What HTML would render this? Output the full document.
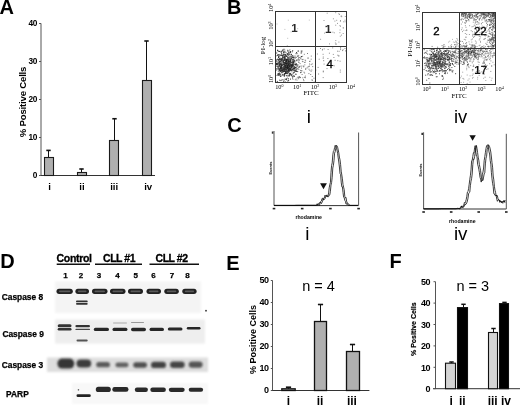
<!DOCTYPE html>
<html><head><meta charset="utf-8"><style>
html,body{margin:0;padding:0;background:#fff;}
svg{display:block;}
</style></head><body>
<svg width="520" height="408" viewBox="0 0 520 408">
<defs><filter id="bl" x="-10%" y="-50%" width="120%" height="200%"><feGaussianBlur stdDeviation="0.6"/></filter><filter id="bl2" x="-10%" y="-50%" width="120%" height="200%"><feGaussianBlur stdDeviation="1.1"/></filter></defs>
<rect width="520" height="408" fill="#fff"/>
<text x="-0.6" y="14.0" font-size="20" font-weight="bold" text-anchor="start" font-family='"Liberation Sans", Arial, sans-serif' >A</text>
<text x="227.0" y="13.9" font-size="20" font-weight="bold" text-anchor="start" font-family='"Liberation Sans", Arial, sans-serif' >B</text>
<text x="227.2" y="132.2" font-size="20" font-weight="bold" text-anchor="start" font-family='"Liberation Sans", Arial, sans-serif' >C</text>
<text x="0.2" y="267.8" font-size="20" font-weight="bold" text-anchor="start" font-family='"Liberation Sans", Arial, sans-serif' >D</text>
<text x="226.3" y="269.9" font-size="20" font-weight="bold" text-anchor="start" font-family='"Liberation Sans", Arial, sans-serif' >E</text>
<text x="389.4" y="267.8" font-size="20" font-weight="bold" text-anchor="start" font-family='"Liberation Sans", Arial, sans-serif' >F</text>
<line x1="41" y1="23.4" x2="41" y2="176.0" stroke="#555" stroke-width="1"/>
<line x1="39.5" y1="175.5" x2="155" y2="175.5" stroke="#333" stroke-width="1"/>
<line x1="39" y1="175.5" x2="41" y2="175.5" stroke="#555" stroke-width="1"/>
<text x="36.9" y="177.6" font-size="8.3" font-weight="bold" text-anchor="end" font-family='"Liberation Sans", Arial, sans-serif' letter-spacing="-0.4">0</text>
<line x1="39" y1="137.5" x2="41" y2="137.5" stroke="#555" stroke-width="1"/>
<text x="36.9" y="139.6" font-size="8.3" font-weight="bold" text-anchor="end" font-family='"Liberation Sans", Arial, sans-serif' letter-spacing="-0.4">10</text>
<line x1="39" y1="99.5" x2="41" y2="99.5" stroke="#555" stroke-width="1"/>
<text x="36.9" y="101.6" font-size="8.3" font-weight="bold" text-anchor="end" font-family='"Liberation Sans", Arial, sans-serif' letter-spacing="-0.4">20</text>
<line x1="39" y1="61.5" x2="41" y2="61.5" stroke="#555" stroke-width="1"/>
<text x="36.9" y="63.6" font-size="8.3" font-weight="bold" text-anchor="end" font-family='"Liberation Sans", Arial, sans-serif' letter-spacing="-0.4">30</text>
<line x1="39" y1="23.5" x2="41" y2="23.5" stroke="#555" stroke-width="1"/>
<text x="36.9" y="25.6" font-size="8.3" font-weight="bold" text-anchor="end" font-family='"Liberation Sans", Arial, sans-serif' letter-spacing="-0.4">40</text>
<line x1="48.5" y1="150.4" x2="48.5" y2="157.5" stroke="#111" stroke-width="1"/>
<line x1="46.3" y1="150.4" x2="50.7" y2="150.4" stroke="#111" stroke-width="1.6"/>
<rect x="44.5" y="157.5" width="9.0" height="18.0" fill="#afafaf" stroke="#1a1a1a" stroke-width="1.1" />
<line x1="81.5" y1="169" x2="81.5" y2="172.5" stroke="#111" stroke-width="1"/>
<line x1="79.3" y1="169" x2="83.7" y2="169" stroke="#111" stroke-width="1.6"/>
<rect x="77.5" y="172.5" width="9.0" height="3.0" fill="#afafaf" stroke="#1a1a1a" stroke-width="1.1" />
<line x1="114.5" y1="118.75" x2="114.5" y2="140.5" stroke="#111" stroke-width="1"/>
<line x1="112.3" y1="118.75" x2="116.7" y2="118.75" stroke="#111" stroke-width="1.6"/>
<rect x="109.5" y="140.5" width="9.0" height="35.0" fill="#afafaf" stroke="#1a1a1a" stroke-width="1.1" />
<line x1="146.5" y1="41" x2="146.5" y2="80.5" stroke="#111" stroke-width="1"/>
<line x1="144.3" y1="41" x2="148.7" y2="41" stroke="#111" stroke-width="1.6"/>
<rect x="142.5" y="80.5" width="9.0" height="95.0" fill="#afafaf" stroke="#1a1a1a" stroke-width="1.1" />
<text x="49.6" y="189.6" font-size="9.6" font-weight="bold" text-anchor="middle" font-family='"Liberation Sans", Arial, sans-serif' >i</text>
<text x="82" y="189.6" font-size="9.6" font-weight="bold" text-anchor="middle" font-family='"Liberation Sans", Arial, sans-serif' >ii</text>
<text x="114.2" y="189.6" font-size="9.6" font-weight="bold" text-anchor="middle" font-family='"Liberation Sans", Arial, sans-serif' >iii</text>
<text x="148.2" y="189.6" font-size="9.6" font-weight="bold" text-anchor="middle" font-family='"Liberation Sans", Arial, sans-serif' >iv</text>
<text x="0" y="0" font-size="9.6" font-weight="bold" text-anchor="middle" font-family='"Liberation Sans", Arial, sans-serif' letter-spacing="-0.2" transform="translate(26.4,102) rotate(-90)">% Positive Cells</text>
<path d="M283.0 68.0h1M283.1 62.4h1M278.9 63.0h1M291.2 67.4h1M290.7 66.2h1M286.9 65.8h1M287.5 67.9h1M279.2 61.3h1M286.3 64.2h1M287.6 60.1h1M286.4 67.2h1M280.5 76.2h1M287.8 72.6h1M280.8 59.5h1M282.4 63.8h1M288.3 66.2h1M281.8 58.0h1M281.4 72.8h1M279.7 66.2h1M287.1 54.4h1M284.8 73.4h1M283.9 58.9h1M287.5 64.1h1M275.7 70.1h1M288.5 70.9h1M293.1 67.0h1M285.2 55.7h1M288.2 60.3h1M281.8 55.9h1M278.7 60.9h1M292.2 50.7h1M275.8 66.1h1M293.2 68.4h1M286.6 59.5h1M277.8 71.1h1M291.1 65.6h1M286.0 67.5h1M294.1 68.7h1M287.6 68.2h1M290.2 68.1h1M289.6 52.2h1M283.4 71.4h1M276.6 75.4h1M287.8 63.5h1M286.4 68.9h1M285.2 72.3h1M280.5 61.7h1M290.8 64.7h1M279.2 70.9h1M293.3 61.5h1M276.2 63.6h1M283.6 62.5h1M292.9 57.5h1M292.1 55.9h1M279.8 68.8h1M291.3 70.3h1M286.6 65.5h1M285.4 68.4h1M283.4 66.4h1M287.9 64.5h1M289.1 68.3h1M296.6 66.7h1M281.9 62.0h1M284.4 70.8h1M282.5 67.1h1M277.8 66.2h1M286.9 66.1h1M281.9 69.0h1M286.2 61.0h1M299.1 66.9h1M281.2 63.8h1M283.1 64.1h1M290.6 56.6h1M284.1 71.0h1M289.6 74.6h1M282.5 68.7h1M291.0 54.7h1M288.6 54.4h1M285.6 72.6h1M283.6 65.8h1M289.3 65.5h1M284.0 74.9h1M290.8 62.5h1M301.0 56.7h1M290.0 62.7h1M285.3 69.3h1M285.8 68.8h1M288.2 58.0h1M278.3 54.5h1M292.1 69.6h1M293.3 58.1h1M284.5 56.7h1M289.1 75.3h1M279.2 75.1h1M290.4 63.3h1M283.9 60.4h1M286.9 67.3h1M293.5 57.6h1M291.3 74.6h1M293.2 63.3h1M280.0 71.4h1M285.2 65.3h1M293.0 62.7h1M286.4 60.3h1M284.4 70.2h1M285.0 73.5h1M284.1 71.6h1M293.4 75.4h1M280.5 70.5h1M277.1 64.4h1M283.3 64.3h1M281.0 66.1h1M295.2 64.8h1M287.7 71.3h1M283.3 55.9h1M281.2 71.8h1M290.5 69.9h1M284.5 70.0h1M285.5 56.5h1M290.0 60.7h1M279.1 59.3h1M277.4 67.0h1M280.7 51.3h1M288.8 62.6h1M286.2 61.4h1M289.2 69.6h1M288.5 66.7h1M292.5 69.0h1M287.2 50.3h1M289.9 73.4h1M282.7 61.3h1M296.1 52.5h1M287.3 81.0h1M278.9 69.2h1M295.8 63.7h1M287.9 70.6h1M279.1 63.9h1M286.3 70.1h1M284.3 63.2h1M278.4 62.1h1M289.9 65.2h1M279.4 58.8h1M300.5 72.3h1M288.2 67.8h1M294.6 67.4h1M284.1 68.1h1M286.4 59.7h1M292.5 76.8h1M276.1 60.0h1M286.2 65.7h1M282.1 57.9h1M297.2 71.6h1M277.3 55.4h1M294.7 71.2h1M295.4 70.0h1M279.3 66.3h1M284.1 68.1h1M280.1 63.7h1M287.3 67.1h1M288.3 65.9h1M282.6 69.9h1M284.8 58.9h1M280.7 64.5h1M283.8 65.6h1M284.5 65.7h1M283.7 55.9h1M287.0 71.7h1M287.1 63.2h1M287.2 57.9h1M278.9 69.5h1M278.3 75.2h1M282.2 55.2h1M279.9 68.0h1M287.5 65.7h1M293.4 69.3h1M284.4 68.6h1M294.4 71.1h1M290.6 57.1h1M283.6 69.5h1M282.7 71.8h1M288.1 70.7h1M283.2 81.8h1M291.9 63.0h1M285.0 82.1h1M282.4 70.4h1M290.4 64.5h1M277.5 65.8h1M286.7 72.2h1M289.2 64.7h1M289.6 68.2h1M285.7 64.9h1M283.0 69.2h1M278.2 60.2h1M284.5 54.5h1M281.9 50.8h1M280.4 68.4h1M287.9 64.1h1M283.1 54.9h1M295.5 68.0h1M291.1 58.5h1M283.4 52.1h1M289.2 70.9h1M288.3 52.5h1M280.7 55.0h1M284.7 66.2h1M288.3 69.3h1M293.5 72.4h1M276.6 61.1h1M278.1 57.2h1M284.0 64.5h1M287.4 53.7h1M277.1 64.3h1M283.3 62.4h1M284.1 59.3h1M288.7 66.9h1M284.0 59.9h1M278.6 64.8h1M285.4 55.1h1M283.0 62.4h1M287.3 68.7h1M284.3 58.7h1M283.6 64.1h1M288.9 66.5h1M280.2 55.3h1M282.3 59.5h1M277.8 63.7h1M281.6 65.2h1M287.6 61.7h1M298.4 62.3h1M291.1 65.3h1M280.0 66.2h1M288.1 80.4h1M286.4 73.2h1M289.1 70.9h1M287.6 63.4h1M287.6 57.2h1M291.6 57.6h1M286.0 78.9h1M283.2 64.6h1M291.5 64.7h1M279.7 66.3h1M288.0 69.3h1M279.9 76.4h1M294.5 64.6h1M286.1 61.6h1M293.0 59.7h1M288.5 61.2h1M280.3 69.4h1M292.5 64.4h1M280.4 70.0h1M284.2 66.6h1M293.6 72.2h1M281.4 80.0h1M284.5 69.8h1M280.6 64.2h1M292.7 56.2h1M291.6 61.4h1M284.1 62.4h1M283.8 57.1h1M284.6 54.7h1M284.1 66.6h1M287.3 62.9h1M279.1 65.6h1M281.6 75.1h1M289.1 63.7h1M281.7 59.7h1M278.9 62.1h1M286.3 68.0h1M287.9 78.8h1M280.3 64.6h1M301.3 51.8h1M281.4 65.7h1M285.4 67.3h1M283.1 67.0h1M284.8 69.7h1M284.5 57.5h1M278.2 68.8h1M280.6 68.8h1M289.0 66.6h1M287.5 63.8h1M276.0 64.3h1M287.2 60.9h1M283.9 69.6h1M279.2 68.9h1M295.7 60.7h1M285.4 63.5h1M293.7 66.7h1M289.9 59.8h1M284.4 64.4h1M289.9 52.6h1M289.0 63.6h1M287.2 67.0h1M275.5 63.1h1M293.5 60.6h1M278.4 55.3h1M277.2 66.8h1M294.7 67.4h1M286.0 79.7h1M281.4 59.9h1M287.7 68.2h1M278.4 56.5h1M286.2 66.2h1M276.7 63.1h1M281.2 67.6h1M283.8 63.9h1M282.4 71.7h1M292.8 62.0h1M289.6 59.3h1M284.9 69.6h1M293.6 61.9h1M284.1 65.8h1M275.5 64.6h1M280.4 67.0h1M277.7 51.1h1M284.7 66.3h1M281.2 70.5h1M282.9 60.4h1M287.4 53.8h1M280.4 64.4h1M289.6 63.4h1M286.4 60.0h1M286.3 75.8h1M280.4 80.6h1M280.6 64.6h1M285.5 71.5h1M277.1 50.2h1M288.1 69.9h1M288.2 82.4h1M285.7 66.2h1M290.1 67.0h1M294.5 56.1h1M289.4 62.0h1M290.0 79.1h1M284.5 62.8h1M281.5 58.8h1M280.7 68.8h1M284.7 65.0h1M283.5 70.7h1M287.5 63.5h1M288.5 63.5h1M277.6 74.4h1M287.3 58.0h1M291.0 66.8h1M286.5 70.6h1M285.7 63.5h1M284.7 62.6h1M286.6 65.0h1M288.6 62.0h1M282.0 69.1h1M292.5 62.0h1M283.8 75.3h1M282.5 69.5h1M294.6 64.8h1M291.9 59.7h1M285.7 64.0h1M285.2 72.2h1M298.8 60.0h1M281.0 67.9h1M278.2 67.9h1M287.9 62.6h1M287.7 54.0h1M289.1 54.0h1M280.3 60.7h1M282.1 70.3h1M285.0 61.8h1M287.8 75.3h1M284.5 67.0h1M291.9 66.3h1M276.8 81.4h1M297.8 51.0h1M284.3 67.3h1M290.3 69.0h1M282.9 57.3h1M285.1 71.5h1M278.0 57.5h1M284.4 51.3h1M282.9 61.5h1M287.2 59.7h1M279.2 61.8h1M284.2 60.0h1M284.6 69.6h1M291.6 76.1h1M279.8 61.6h1M280.2 64.3h1M287.6 55.3h1M287.3 64.3h1M291.7 51.8h1M289.3 65.9h1M287.3 67.5h1M292.3 63.0h1M289.7 61.7h1M288.9 59.0h1M283.8 76.3h1M287.2 63.4h1M277.6 59.1h1M285.7 70.9h1M287.1 68.1h1M284.2 73.7h1M282.2 60.8h1M289.8 64.9h1M282.8 60.6h1M283.0 68.7h1M286.6 56.3h1M287.1 65.7h1M278.5 69.8h1M282.8 62.2h1M289.3 73.5h1M280.4 67.5h1M279.2 80.2h1M281.5 72.6h1M280.6 70.0h1M281.9 67.9h1M283.9 60.0h1M297.4 65.0h1M281.0 65.5h1M292.1 65.3h1M276.2 53.0h1M291.6 69.5h1M279.6 70.3h1M287.5 68.9h1M289.9 69.5h1M285.5 67.8h1M299.8 58.0h1M282.5 64.7h1M289.8 61.5h1M291.4 59.1h1M286.1 60.9h1M285.4 59.8h1M286.3 60.7h1M285.7 71.2h1M278.6 63.7h1M287.7 68.1h1M282.5 50.2h1M292.0 66.7h1M284.6 62.6h1M286.1 61.6h1M278.4 59.5h1M280.9 60.3h1M277.5 68.8h1M276.6 69.0h1M278.4 66.9h1M292.7 65.9h1M280.1 64.8h1M285.4 52.7h1M280.9 65.6h1M281.7 65.0h1M288.9 69.7h1M289.9 68.5h1M282.8 64.4h1M282.9 62.4h1M283.4 52.8h1M282.5 64.3h1M278.7 64.3h1M287.6 63.4h1M283.3 52.1h1M287.6 62.4h1M289.6 67.0h1M284.6 60.5h1M288.3 61.2h1M285.8 61.0h1M285.7 69.6h1M279.2 64.3h1M288.2 65.5h1M292.0 78.0h1M279.0 51.4h1M289.6 74.9h1M290.0 70.0h1M280.8 59.6h1M289.8 58.3h1M299.5 77.6h1M280.4 59.5h1M285.9 59.4h1M292.4 64.0h1M278.0 73.4h1M281.0 66.0h1M284.4 62.4h1M286.4 59.8h1M276.9 59.3h1M284.4 64.9h1M287.8 65.3h1M279.7 59.7h1M287.4 68.1h1M283.8 63.3h1M290.1 64.6h1M288.9 68.5h1M285.8 73.4h1M281.1 62.1h1M279.7 59.1h1M293.8 76.5h1M284.6 68.4h1M291.6 70.0h1M291.7 55.9h1M280.7 67.6h1M293.1 65.2h1M279.3 62.1h1M280.5 58.7h1M293.5 60.2h1M284.6 79.2h1M291.6 66.8h1M280.8 67.3h1M294.2 68.7h1M292.1 65.2h1M287.6 63.1h1M287.1 73.3h1M275.9 64.1h1M285.9 60.6h1M282.7 69.9h1M296.5 68.8h1M286.5 54.0h1M296.1 65.0h1M284.3 56.9h1M284.2 57.0h1M284.9 67.7h1M284.7 66.4h1M279.4 74.2h1M280.6 52.1h1M283.4 59.3h1M278.4 62.1h1M286.2 56.5h1M283.7 74.2h1M288.6 63.5h1M285.3 63.7h1M284.2 69.5h1M284.4 58.5h1M288.4 60.3h1M285.4 79.3h1M278.2 56.9h1M280.7 51.8h1M275.6 68.7h1M279.8 62.0h1M286.5 73.7h1M296.1 71.5h1M285.4 65.8h1M295.3 74.2h1M282.6 67.6h1M286.2 64.9h1M281.5 55.5h1M281.3 54.0h1M291.8 68.1h1M277.3 74.0h1M289.9 51.5h1M295.5 70.0h1M296.9 56.1h1M287.7 67.4h1M285.7 65.7h1M290.8 54.3h1M277.0 55.0h1M281.2 60.4h1M286.7 66.3h1M284.7 59.9h1M281.8 71.0h1M289.1 65.2h1M282.6 75.1h1M280.9 68.9h1M291.4 62.7h1M289.5 56.9h1M290.6 65.9h1M279.1 73.2h1M280.4 63.4h1M286.2 62.2h1M286.1 60.7h1M288.5 64.5h1M291.5 64.7h1M287.3 71.8h1M278.0 75.0h1M283.5 80.8h1M283.6 69.1h1M282.3 56.9h1M291.1 70.7h1M293.7 70.3h1M281.1 53.2h1M280.6 59.9h1M279.6 68.5h1M286.5 62.7h1M285.5 63.5h1M285.8 69.6h1M290.3 59.8h1M285.2 72.0h1M284.7 54.7h1M281.4 69.4h1M291.0 75.3h1M279.3 55.0h1M287.6 70.9h1M285.7 55.7h1M289.2 69.9h1M287.8 61.2h1M286.3 69.9h1" stroke="#000" stroke-width="1" opacity="0.8"/>
<path d="M287.4 51.3h1M296.3 69.8h1M293.1 73.1h1M287.1 65.3h1M289.9 70.6h1M309.0 64.0h1M313.5 78.2h1M300.9 70.7h1M310.7 64.6h1M291.9 57.5h1M297.7 76.8h1M298.3 69.4h1M291.0 67.4h1M278.7 74.4h1M288.9 57.2h1M285.5 59.4h1M301.6 74.5h1M279.4 73.4h1M301.9 61.4h1M278.1 60.0h1M286.7 68.7h1M289.4 49.8h1M295.3 53.7h1M302.1 56.3h1M286.1 59.2h1M287.6 76.4h1M301.5 70.8h1M296.2 53.6h1M287.8 61.6h1M283.2 70.1h1M285.6 60.3h1M282.6 49.5h1M299.0 76.6h1M294.7 58.2h1M305.2 68.4h1M302.3 77.8h1M304.3 62.5h1M303.5 72.2h1M277.6 62.8h1M278.8 65.1h1M298.8 57.5h1M296.8 77.8h1M279.8 74.5h1M313.7 82.1h1M290.9 68.2h1M291.5 74.0h1M303.4 66.7h1M279.4 71.9h1M288.3 71.0h1M295.6 79.0h1M304.4 62.4h1M296.5 80.1h1M287.6 69.5h1M304.9 76.1h1M298.2 55.4h1M280.4 68.0h1M284.4 75.1h1M300.7 52.6h1M284.8 67.3h1M288.1 64.8h1M297.7 59.5h1M297.7 60.9h1M287.6 70.3h1M287.3 68.3h1M309.0 66.2h1M291.5 71.9h1M289.3 74.7h1M280.2 70.9h1M287.9 59.6h1M310.7 59.2h1M310.6 71.3h1M307.5 58.2h1M305.0 77.7h1M291.8 65.0h1M317.6 67.4h1M288.8 61.0h1M297.5 68.6h1M294.8 79.8h1M289.7 69.8h1M307.6 58.0h1M303.4 80.7h1M279.5 57.2h1M282.6 51.2h1M297.5 51.2h1M298.0 77.6h1M276.8 63.5h1M285.6 63.9h1M293.5 70.4h1M289.5 66.1h1M287.5 66.9h1M281.3 66.5h1M312.2 66.6h1M280.4 68.1h1M283.3 52.8h1M285.6 71.9h1M296.8 65.2h1M283.7 57.4h1M306.5 68.0h1M283.5 49.1h1M281.5 65.4h1M295.1 64.7h1M290.2 55.0h1M282.5 79.5h1M285.4 72.8h1M276.1 63.8h1M295.6 74.3h1M281.8 70.8h1M296.9 60.1h1M297.8 58.8h1M285.0 65.8h1M283.0 54.3h1M288.7 72.1h1M289.0 76.1h1M281.4 55.5h1M308.5 69.2h1M302.5 59.4h1M301.0 68.1h1M299.5 66.2h1M305.1 60.8h1M283.4 54.2h1M304.6 60.1h1M282.6 58.5h1M288.5 55.8h1M290.1 61.0h1M287.5 58.3h1M293.4 62.3h1M294.1 68.0h1M287.6 59.6h1M300.7 53.4h1M285.9 63.6h1M289.6 73.9h1M288.6 73.7h1M278.3 51.5h1M305.2 69.5h1M297.9 67.0h1M297.8 56.3h1M302.5 61.7h1M302.9 66.7h1M304.3 64.9h1M289.0 67.9h1M288.7 61.6h1M294.0 67.2h1M308.2 66.4h1M311.8 80.4h1M310.2 74.5h1M294.3 67.1h1M291.6 60.2h1M292.3 60.9h1M309.4 70.3h1M288.5 50.7h1M292.5 62.7h1M282.1 56.9h1M292.7 64.8h1M307.4 67.1h1M294.7 63.0h1M286.9 78.0h1M303.0 79.7h1M289.5 66.2h1M284.2 73.7h1M279.1 70.5h1M304.0 77.3h1M283.6 74.7h1M285.9 59.9h1M279.8 75.2h1M309.5 61.2h1M285.4 63.3h1M318.1 74.0h1M287.6 51.6h1M286.3 75.5h1M311.7 63.9h1M286.1 61.9h1M282.1 74.5h1M275.9 55.8h1M295.9 59.9h1M300.8 66.1h1M281.3 71.0h1M301.4 50.7h1M311.3 70.0h1M300.6 51.1h1M285.8 63.2h1M303.8 54.3h1M284.2 49.8h1M290.6 68.8h1M276.1 61.3h1M298.1 78.7h1M299.6 63.6h1M281.2 58.5h1M286.4 67.2h1M292.5 79.3h1M295.9 57.4h1M308.4 73.6h1M294.0 60.2h1M302.1 59.6h1M279.8 67.6h1M295.4 70.9h1M299.6 77.3h1M284.6 73.8h1M283.1 71.6h1M294.8 67.9h1M302.7 65.9h1M304.1 73.0h1M294.4 61.5h1M285.5 61.8h1M291.0 65.8h1M322.8 71.1h1M300.7 59.1h1M285.9 63.4h1M294.9 57.7h1M309.1 61.5h1M292.9 68.2h1M294.9 70.8h1M295.8 67.3h1M296.1 64.4h1M284.8 61.3h1M311.5 79.8h1M292.4 76.3h1M277.1 50.5h1M288.2 59.0h1M287.4 67.5h1M323.2 60.7h1M293.5 68.2h1M292.7 73.4h1M310.8 56.1h1M294.6 63.9h1M296.6 53.7h1M298.3 67.5h1M289.3 60.0h1M278.9 58.7h1M300.0 70.4h1M292.8 70.1h1M287.0 66.6h1M293.4 70.4h1M292.3 64.9h1M291.7 60.8h1M315.3 70.1h1M307.0 53.5h1M300.0 72.7h1M311.8 76.5h1M300.7 56.6h1M284.3 68.2h1M298.0 57.8h1" stroke="#000" stroke-width="1" opacity="0.5"/>
<path d="M328.9 53.2h1M332.8 54.4h1M340.1 49.6h1M338.6 51.3h1M322.6 54.3h1M345.0 50.9h1M322.0 49.4h1M342.6 49.8h1M333.4 57.5h1M337.1 51.2h1M338.3 55.9h1M320.0 48.5h1M342.0 50.6h1M322.8 57.0h1M332.6 65.5h1M337.3 55.2h1M333.7 65.8h1M337.3 60.7h1M339.8 70.1h1M322.7 77.6h1M321.9 50.0h1M340.1 47.9h1M338.3 55.9h1M316.9 54.0h1M327.4 58.5h1M323.7 48.9h1M339.8 72.1h1M334.6 60.3h1M322.8 71.9h1M323.6 64.1h1M344.5 48.5h1M332.2 47.9h1M327.6 49.5h1M326.5 68.6h1M340.0 47.9h1M322.7 58.3h1M318.7 59.2h1M339.6 61.2h1" stroke="#000" stroke-width="1" opacity="0.45"/>
<path d="M335.2 25.2h1M325.1 26.3h1M339.5 25.5h1M335.7 44.0h1M344.5 20.2h1M337.0 23.4h1M320.1 39.3h1M334.9 43.0h1M338.3 13.8h1M328.2 29.6h1M323.5 20.5h1M339.9 26.4h1M339.6 30.0h1M339.0 14.4h1M335.2 12.7h1M341.2 16.7h1M329.0 43.9h1M342.7 33.5h1M338.4 42.1h1M326.7 13.2h1M341.0 35.1h1M339.9 21.3h1M324.1 33.1h1M340.0 20.5h1M335.4 44.3h1M344.6 21.8h1M341.1 16.1h1M332.4 32.2h1M334.4 21.1h1M342.7 27.9h1M340.5 16.2h1M344.8 16.5h1M343.2 21.8h1M336.2 20.3h1M335.3 40.6h1M339.4 32.7h1M332.9 18.8h1M339.8 36.2h1M333.8 32.8h1M342.9 27.9h1" stroke="#000" stroke-width="1" opacity="0.4"/>
<path d="M287.8 20.2h1M284.4 29.4h1M290.6 31.9h1M276.5 24.0h1M308.8 20.1h1M297.2 28.7h1M286.8 45.6h1M287.2 38.3h1" stroke="#000" stroke-width="1" opacity="0.25"/>
<rect x="275.5" y="11.5" width="71.0" height="71.0" fill="none" stroke="#333" stroke-width="1"/>
<line x1="315.5" y1="11.5" x2="315.5" y2="82.5" stroke="#333" stroke-width="1"/>
<line x1="275.5" y1="46.5" x2="346.5" y2="46.5" stroke="#333" stroke-width="1"/>
<text x="291.2" y="32.3" font-size="11.6" font-weight="bold" text-anchor="start" font-family='"Liberation Sans", Arial, sans-serif' fill="#2a2a2a">1</text>
<text x="325" y="32.6" font-size="11.6" font-weight="bold" text-anchor="start" font-family='"Liberation Sans", Arial, sans-serif' fill="#2a2a2a">1</text>
<text x="326.5" y="68.0" font-size="11.6" font-weight="normal" text-anchor="start" font-family='"Liberation Sans", Arial, sans-serif' stroke="#000" stroke-width="0.35">4</text>
<path d="M439.2 63.7h1M443.8 56.0h1M445.3 64.1h1M424.6 65.7h1M442.2 64.7h1M451.0 58.6h1M441.9 66.7h1M429.8 69.9h1M425.2 52.4h1M441.9 53.9h1M436.5 50.0h1M438.1 53.6h1M440.4 50.8h1M441.3 59.6h1M438.0 61.0h1M438.6 52.3h1M429.5 58.3h1M431.0 57.2h1M428.5 63.8h1M436.3 55.8h1M429.1 67.2h1M431.9 65.6h1M428.3 61.5h1M440.4 67.0h1M444.3 68.7h1M434.3 60.0h1M444.1 58.5h1M446.5 50.4h1M443.1 60.3h1M440.1 61.6h1M428.3 58.2h1M450.4 55.7h1M427.3 60.6h1M434.2 55.1h1M430.3 68.8h1M425.2 75.2h1M432.9 53.9h1M444.2 65.4h1M428.6 66.7h1M447.1 59.7h1M426.4 65.1h1M445.3 61.3h1M441.1 66.9h1M453.3 59.7h1M433.4 61.2h1M447.8 54.9h1M444.3 56.8h1M441.4 66.3h1M427.4 60.9h1M439.5 65.6h1M429.6 54.6h1M435.9 59.9h1M424.8 68.0h1M433.0 71.5h1M444.7 61.6h1M443.7 53.7h1M434.7 57.5h1M426.7 61.6h1M436.3 71.5h1M429.7 58.3h1M441.1 64.3h1M437.7 58.2h1M441.7 64.0h1M425.8 53.2h1M438.7 61.9h1M438.5 55.4h1M435.8 55.1h1M440.7 66.3h1M452.4 70.4h1M430.7 58.3h1M429.5 63.6h1M454.3 66.5h1M426.5 65.1h1M437.5 63.6h1M452.6 55.7h1M430.3 75.3h1M440.4 56.0h1M437.9 68.5h1M436.3 56.6h1M431.2 74.8h1M437.7 65.8h1M434.1 65.0h1M444.4 60.5h1M433.6 60.2h1M429.3 60.0h1M434.9 63.0h1M448.9 70.7h1M433.7 65.7h1M440.0 66.8h1M437.7 63.4h1M433.5 56.0h1M444.9 70.6h1M443.1 64.6h1M439.8 58.3h1M439.2 57.6h1M429.3 70.4h1M442.9 78.1h1M431.4 61.3h1M433.2 62.6h1M435.7 56.3h1M446.6 56.0h1M433.2 65.4h1M432.9 58.5h1M440.5 58.9h1M426.9 60.8h1M435.6 73.4h1M428.2 68.3h1M430.8 59.0h1M434.7 63.4h1M444.8 73.7h1M432.1 70.8h1M446.0 67.2h1M431.0 67.8h1M436.6 64.0h1M435.2 66.1h1M447.0 69.4h1M435.8 68.5h1M449.8 55.0h1M450.0 52.2h1M442.1 65.7h1M450.1 63.5h1M433.4 55.9h1M426.9 66.9h1M435.5 56.5h1M442.0 56.1h1M433.8 58.3h1M451.6 71.7h1M436.2 50.5h1M439.9 62.0h1M440.5 65.5h1M434.8 68.0h1M444.6 63.0h1M434.0 58.1h1M443.4 53.8h1M436.1 56.3h1M425.7 65.7h1M437.3 61.8h1M444.9 51.0h1M436.9 63.5h1M444.6 53.9h1M443.6 63.0h1M449.0 69.5h1M442.2 76.5h1M437.5 58.5h1M434.6 54.9h1M436.8 64.5h1M445.9 59.1h1M449.3 56.9h1M431.0 56.0h1M449.9 65.1h1M428.3 65.1h1M441.5 59.9h1M437.7 59.4h1M433.0 49.4h1M436.7 70.3h1M449.4 59.6h1M431.3 60.1h1M444.9 63.9h1M432.7 64.0h1M435.8 65.0h1M434.1 51.5h1M438.0 66.7h1M428.3 60.8h1M444.8 58.9h1M432.1 75.4h1M444.4 68.5h1M429.7 72.6h1M423.8 58.0h1M443.6 70.6h1M429.8 57.0h1M442.8 65.3h1M433.8 65.2h1M443.9 63.6h1M441.8 71.8h1M433.6 62.6h1M433.2 68.5h1M434.1 64.7h1M438.6 62.0h1M451.6 60.9h1M449.2 67.1h1M448.4 60.4h1M445.1 66.6h1M432.4 63.3h1M436.4 61.3h1M448.2 56.6h1M423.7 49.7h1M433.8 57.1h1M437.6 65.3h1M451.9 63.6h1M441.3 56.5h1M442.3 70.7h1M444.8 72.2h1M444.3 51.4h1M435.0 65.5h1M440.9 56.0h1M430.2 68.0h1M426.6 71.2h1M437.7 63.5h1M426.6 57.5h1M443.1 51.6h1M454.4 52.0h1M427.5 61.8h1M441.4 66.4h1M434.5 60.1h1M435.6 57.6h1M439.6 62.6h1M432.4 63.2h1M437.4 61.0h1M446.5 49.9h1M439.6 54.3h1M434.9 71.6h1M428.6 60.8h1M432.7 67.9h1M429.5 50.2h1M441.7 59.1h1M434.9 68.8h1M430.3 59.0h1M438.7 64.3h1M433.3 68.5h1M455.8 58.8h1M449.0 59.2h1M438.6 59.2h1M432.3 52.9h1M434.3 70.2h1M446.8 59.2h1M433.2 56.8h1M427.7 73.6h1M442.9 62.3h1M433.5 54.6h1M448.2 66.7h1M429.7 68.1h1M428.5 65.8h1M429.7 58.7h1M441.5 64.4h1M445.8 55.9h1M450.4 70.5h1M437.4 64.6h1M431.2 60.5h1M426.7 62.1h1M439.1 70.5h1M445.2 67.0h1M434.5 60.0h1M434.7 63.0h1M424.7 58.0h1M437.7 58.0h1M451.1 60.8h1M450.3 69.4h1M433.4 64.2h1M448.1 59.3h1M438.2 57.7h1M438.0 59.1h1M438.2 68.2h1M448.9 62.4h1M439.1 67.3h1M435.1 54.4h1M446.6 55.2h1M445.1 55.0h1M452.4 54.5h1M444.4 71.6h1M429.7 71.5h1M430.8 49.6h1M443.4 66.2h1M437.1 59.4h1M434.4 59.6h1M422.9 57.7h1M452.2 71.9h1M434.5 56.7h1M440.7 68.6h1M443.4 53.6h1M438.8 62.4h1M449.2 69.5h1M441.8 69.7h1M434.3 71.8h1M434.0 64.2h1M445.0 55.4h1M431.8 49.7h1M438.8 61.1h1M434.8 64.8h1M438.2 59.7h1M444.0 73.3h1M433.9 55.2h1M432.6 62.1h1M442.3 55.7h1M445.7 54.6h1M444.2 64.4h1M441.3 76.0h1M435.3 60.4h1M441.4 67.3h1M426.6 63.3h1M431.4 65.7h1M448.7 61.8h1M436.6 62.7h1M442.1 62.6h1M434.3 56.6h1M436.0 69.7h1M436.7 70.6h1M439.7 61.4h1M424.0 57.0h1M447.7 52.8h1M429.4 54.1h1M433.0 65.8h1M449.4 57.5h1M432.7 72.7h1M436.8 53.2h1M432.3 56.6h1M429.3 59.3h1M444.7 63.9h1M426.2 80.2h1M429.4 62.3h1M437.8 66.6h1M434.8 64.6h1M454.7 62.1h1M428.7 63.7h1M430.9 59.0h1M439.0 63.8h1M435.2 67.2h1M435.9 52.7h1M444.7 59.1h1M447.4 57.1h1M442.2 63.6h1M428.4 71.0h1M446.4 64.8h1M443.0 58.2h1M437.4 63.0h1M440.9 66.3h1M435.8 56.8h1M432.9 64.3h1M423.9 53.1h1M434.1 57.8h1M434.7 59.8h1M435.0 64.7h1M441.5 69.5h1M446.1 54.4h1M442.7 59.2h1M430.9 71.8h1M432.4 55.8h1M434.2 55.8h1M445.7 64.1h1M448.9 64.3h1M432.5 68.5h1M432.1 58.4h1M436.1 61.8h1M447.3 57.4h1M440.4 61.3h1M427.2 54.1h1M435.7 64.2h1M440.1 64.7h1M437.9 58.5h1M441.0 54.7h1M426.5 59.3h1M425.8 58.0h1M431.4 57.8h1M437.1 56.1h1M434.0 50.0h1M438.7 55.6h1M430.9 63.1h1M438.3 62.2h1M425.2 63.0h1M438.7 54.9h1M443.6 61.2h1M437.7 58.5h1M442.0 62.2h1M446.8 64.6h1M432.4 60.0h1M445.0 59.0h1M440.6 65.0h1M438.6 62.9h1M438.6 56.4h1M447.4 60.6h1M432.4 56.6h1M440.4 54.1h1M429.3 75.0h1M448.3 68.6h1M448.7 65.5h1M423.6 69.6h1M447.7 64.8h1M448.7 58.2h1M438.5 66.8h1M436.8 68.9h1M438.2 66.2h1M438.2 51.5h1M429.3 83.0h1M439.8 70.4h1M446.9 73.1h1M442.1 57.5h1M435.9 67.7h1M444.3 70.5h1M429.9 57.1h1M441.9 75.6h1M428.0 70.9h1M441.0 58.1h1M436.9 63.0h1M455.1 73.7h1M456.2 62.4h1M445.6 70.8h1M441.7 63.9h1M436.0 58.7h1M427.3 74.8h1M439.7 61.3h1M439.0 73.8h1M436.6 59.7h1M431.3 61.3h1M433.9 62.9h1M463.3 64.2h1M430.4 74.6h1M444.6 67.1h1M443.4 67.1h1M443.1 71.1h1M445.8 70.7h1M433.3 61.5h1M431.5 68.0h1M444.4 58.3h1M442.3 79.4h1M447.7 53.9h1M436.7 65.8h1M437.2 64.1h1M447.3 63.7h1M428.4 66.4h1M436.7 62.3h1M432.8 52.1h1M427.2 59.1h1M447.0 53.6h1M431.5 65.1h1M431.1 66.0h1M433.5 63.6h1M438.4 61.5h1M437.2 71.1h1M433.0 65.1h1M438.8 64.8h1M445.7 51.3h1M439.8 60.3h1M434.9 55.7h1M431.0 54.5h1M428.4 78.6h1M451.6 61.6h1M443.6 54.8h1M438.7 71.3h1M437.2 54.7h1M435.5 54.7h1M425.9 59.9h1M434.2 56.0h1M430.2 55.2h1M439.5 71.0h1M435.8 76.8h1M424.1 63.4h1M427.9 60.4h1M438.3 65.3h1M446.9 57.7h1M427.2 60.2h1M439.9 56.7h1M444.9 73.0h1M425.7 64.0h1M439.2 60.0h1M425.7 70.5h1M439.3 58.2h1M441.2 65.9h1M443.9 65.5h1M440.9 53.5h1M434.0 62.4h1M434.4 54.3h1M437.8 57.5h1M434.0 55.4h1M431.3 60.8h1M432.2 66.1h1M436.3 62.4h1M440.9 70.2h1M442.5 63.1h1M436.1 56.0h1M434.7 66.2h1M439.4 58.9h1M426.5 51.0h1M440.2 68.5h1M440.6 52.1h1M435.7 63.0h1M429.9 63.9h1M435.8 55.8h1M427.2 67.0h1M440.5 55.4h1M429.1 67.6h1M442.4 59.4h1M450.7 59.5h1M428.8 68.9h1M435.9 63.9h1M437.8 54.7h1M427.7 60.2h1M449.1 54.7h1M448.7 63.0h1M428.3 63.3h1M442.2 55.4h1M428.3 64.5h1M430.8 51.4h1M435.5 62.7h1M432.9 53.5h1M439.3 49.6h1M441.9 64.8h1M451.4 67.5h1M440.4 63.3h1M437.7 52.5h1M449.6 65.1h1M435.1 53.7h1M449.8 65.1h1M427.7 66.1h1M453.2 61.3h1M440.8 58.7h1M432.3 68.8h1M462.9 62.3h1M436.5 66.9h1M435.0 66.5h1M444.3 54.6h1M428.6 61.0h1M444.4 63.4h1M447.7 52.1h1M441.6 57.3h1M438.3 63.7h1M429.5 59.9h1M427.9 63.3h1M430.5 58.1h1M439.3 57.1h1M447.0 57.2h1M444.5 63.4h1M429.0 60.0h1M430.6 59.0h1M435.3 73.8h1M434.0 72.1h1M441.2 52.6h1M446.0 64.1h1M435.8 59.8h1M439.6 59.4h1M433.1 59.0h1M447.1 57.3h1M440.6 53.7h1M431.6 52.2h1M435.9 66.1h1M440.0 58.2h1M442.5 59.1h1M440.6 63.4h1M426.8 66.7h1M436.6 76.7h1M435.6 57.8h1M449.8 65.3h1M453.1 65.0h1M435.8 66.4h1M431.0 58.5h1M432.9 60.0h1M443.9 58.2h1M440.1 58.1h1" stroke="#000" stroke-width="1" opacity="0.7"/>
<path d="M452.8 54.8h1M443.5 58.9h1M457.3 60.2h1M465.2 57.1h1M453.4 48.7h1M452.7 51.8h1M457.7 51.8h1M487.5 46.3h1M467.5 51.7h1M452.4 58.5h1M455.0 48.1h1M459.4 53.1h1M433.1 55.0h1M443.8 50.4h1M460.1 55.4h1M451.9 64.5h1M459.5 51.0h1M457.5 53.4h1M431.6 46.4h1M440.2 64.0h1M453.0 52.7h1M449.0 58.7h1M455.3 62.2h1M463.4 61.9h1M453.8 55.8h1M450.4 53.2h1M436.6 51.2h1M444.9 50.9h1M467.9 55.3h1M468.0 58.1h1M464.8 58.8h1M448.6 57.9h1M451.6 51.4h1M467.7 64.4h1M444.6 62.4h1M463.8 49.9h1M457.9 55.8h1M459.0 52.3h1M441.4 54.2h1M464.1 57.8h1M462.0 59.3h1M444.5 53.8h1M458.6 58.8h1M456.7 56.5h1M456.4 64.1h1M431.9 53.9h1M481.2 55.1h1M435.6 54.6h1M439.8 50.7h1M457.4 62.3h1M459.9 57.2h1M465.8 55.0h1M445.9 53.5h1M458.6 52.7h1M447.9 52.3h1M439.1 49.1h1M454.0 52.3h1M455.4 60.8h1M458.2 53.8h1M442.6 48.8h1M459.0 49.8h1M459.5 48.8h1M456.4 53.6h1M465.5 52.1h1M451.1 55.2h1M455.6 62.1h1M452.3 51.4h1M451.6 56.3h1M457.5 57.3h1M440.4 65.9h1M474.5 53.8h1M442.2 54.7h1M455.1 46.9h1M459.9 60.6h1M465.9 46.8h1M469.6 58.4h1M451.2 56.4h1M471.1 52.4h1M454.8 51.3h1M470.0 49.3h1M464.8 46.2h1M445.1 51.1h1M463.8 46.2h1M461.4 50.9h1M468.1 52.5h1M460.1 53.2h1M474.0 52.3h1M454.7 63.5h1M455.8 57.3h1M447.2 55.0h1M431.0 54.5h1M448.2 46.8h1M440.0 59.5h1M459.5 46.7h1M474.2 50.7h1M451.1 55.2h1M443.0 46.2h1M447.1 59.7h1M465.1 46.4h1M467.7 54.2h1M460.3 54.2h1M459.4 49.2h1M445.4 50.6h1M451.1 57.0h1M442.1 61.7h1M448.3 51.2h1M462.4 56.1h1M451.4 48.9h1M444.4 46.3h1M467.1 59.2h1M474.8 56.4h1M458.5 57.6h1M465.1 52.8h1M458.7 64.4h1M437.1 47.2h1M444.8 57.6h1M467.6 52.4h1M462.1 53.8h1M458.2 51.4h1M454.7 54.0h1M467.0 64.7h1M435.8 56.6h1M454.9 58.7h1M466.2 57.8h1M463.6 49.4h1M436.9 62.0h1M467.8 49.4h1M468.7 57.2h1M429.0 58.3h1M444.5 59.6h1M447.8 50.4h1M438.6 53.0h1M465.8 50.8h1M435.3 64.3h1M474.6 57.3h1M449.3 48.2h1M437.6 56.7h1M468.8 48.9h1M455.0 52.7h1M452.3 56.4h1M477.2 50.9h1M464.0 59.2h1M452.0 53.3h1M440.8 59.2h1M449.4 50.8h1M455.7 49.9h1M443.9 52.6h1M470.8 53.0h1M460.6 46.9h1M434.3 62.8h1M450.8 46.6h1M453.9 56.9h1M436.7 49.7h1M457.8 49.6h1M463.5 58.6h1M459.7 51.9h1M454.5 50.9h1M453.6 55.5h1M451.8 58.7h1M482.5 51.4h1M458.6 58.0h1M461.8 52.9h1M449.9 58.8h1M461.6 56.4h1M446.5 57.0h1M463.4 53.1h1M461.9 64.5h1M435.1 56.9h1M442.6 47.4h1M452.5 56.6h1M455.6 48.4h1M439.7 51.3h1M455.1 50.0h1M439.0 62.5h1M446.1 53.2h1M449.2 51.2h1M455.4 52.6h1M461.6 48.3h1M439.2 63.4h1M454.2 57.7h1M467.6 56.7h1M455.4 46.5h1M438.0 58.7h1M462.2 56.8h1M443.7 48.3h1M456.7 49.1h1M471.9 51.0h1M449.0 58.2h1M458.5 49.6h1M463.8 63.3h1M441.9 52.8h1M443.5 44.6h1M461.7 57.4h1M465.4 56.1h1M433.5 53.9h1M447.9 48.3h1M443.2 57.7h1M451.8 63.5h1M460.0 44.7h1M464.6 60.1h1M455.3 48.1h1M473.9 47.6h1M454.1 44.7h1M441.6 45.7h1M466.7 59.7h1M450.7 47.4h1M454.4 55.8h1M438.7 48.4h1M453.9 57.4h1M455.8 56.2h1M458.3 49.5h1M453.7 52.2h1M460.2 50.2h1M470.5 54.2h1M460.7 57.1h1M466.1 56.0h1M436.2 50.9h1M475.0 56.3h1M461.0 56.3h1M448.1 50.7h1M448.0 59.7h1M458.9 62.7h1M460.4 63.2h1M459.9 48.2h1M473.7 55.7h1M467.8 55.1h1M451.5 54.8h1M442.9 48.1h1M445.4 51.4h1M440.4 53.5h1M458.3 63.9h1M474.9 53.8h1M464.5 52.9h1M459.2 53.8h1M449.2 54.4h1M439.0 56.2h1M451.9 48.7h1M451.1 56.7h1M447.7 56.3h1M461.2 61.7h1M443.2 53.5h1M460.5 61.4h1M457.8 57.7h1M439.1 51.1h1M473.0 52.6h1" stroke="#000" stroke-width="1" opacity="0.55"/>
<path d="M485.0 48.8h1M465.8 46.3h1M473.0 51.8h1M483.9 51.5h1M466.0 46.8h1M467.4 53.8h1M473.8 54.6h1M474.8 50.9h1M472.8 51.5h1M471.0 47.9h1M471.0 51.9h1M475.9 55.3h1M480.1 48.2h1M470.7 52.0h1M469.5 53.2h1M485.4 51.9h1M476.5 50.6h1M467.1 48.1h1M473.8 45.7h1M468.9 51.4h1M470.4 54.9h1M467.2 51.3h1M474.8 46.4h1M465.7 51.2h1M475.6 48.6h1M474.4 52.1h1M469.6 53.2h1M474.5 49.4h1M476.5 53.4h1M471.7 52.4h1M465.2 51.4h1M467.6 50.0h1M460.0 51.6h1M462.1 46.8h1M468.7 55.3h1M464.8 47.8h1M479.0 56.1h1M465.7 50.4h1M469.7 59.8h1M469.1 54.0h1M471.5 45.6h1M471.4 51.3h1M482.3 50.2h1M470.5 51.2h1M469.1 57.9h1M470.3 55.4h1M478.3 49.2h1M473.5 49.9h1M468.9 51.5h1M468.2 49.6h1M480.4 50.2h1M473.6 56.0h1M473.0 54.1h1M479.1 54.3h1M481.7 46.7h1M483.6 51.1h1M470.4 51.5h1M461.6 50.3h1M467.2 51.2h1M467.9 50.3h1M475.0 46.2h1M464.1 51.4h1M464.8 49.3h1M464.5 51.6h1M477.9 50.4h1M465.9 52.1h1M466.1 45.2h1M470.1 49.9h1M463.4 52.9h1M468.4 49.3h1M468.1 50.6h1M471.5 51.7h1M464.2 47.2h1M466.5 45.7h1M481.0 48.0h1M467.6 50.3h1M461.4 45.7h1M476.2 57.5h1M467.9 53.5h1M463.9 53.2h1M475.2 52.8h1M479.6 50.5h1M480.3 48.9h1M468.1 48.6h1M468.0 54.1h1M473.7 51.3h1M481.6 46.6h1M461.5 55.5h1M470.6 44.8h1M470.7 47.4h1M479.8 54.4h1M463.6 54.9h1M461.3 53.8h1M472.6 50.6h1M472.7 52.1h1M463.9 57.4h1" stroke="#000" stroke-width="1" opacity="0.5"/>
<path d="M461.5 12.9h1M467.0 18.1h1M484.5 14.8h1M486.4 12.6h1M469.7 15.5h1M461.9 13.5h1M469.8 15.1h1M493.8 15.8h1M483.3 16.7h1M481.3 13.7h1M463.2 15.7h1M463.3 16.3h1M465.8 12.8h1M464.8 23.1h1M484.4 12.9h1M470.3 12.8h1M464.4 15.0h1M471.3 17.6h1M476.1 15.8h1M485.8 20.2h1M472.6 17.7h1M489.3 19.9h1M468.7 13.9h1M490.1 14.4h1M470.4 18.1h1M461.3 15.7h1M466.4 20.6h1M483.4 17.5h1M467.1 15.6h1M465.9 21.8h1M474.0 19.0h1M483.2 15.1h1M463.2 13.7h1M461.5 13.8h1M493.7 14.2h1M473.4 12.9h1M487.8 14.7h1M469.6 15.7h1M464.8 16.1h1M469.4 13.4h1M473.9 15.6h1M487.0 12.9h1M468.4 15.1h1M474.1 16.3h1M477.0 16.8h1M490.6 18.1h1M489.4 14.3h1M469.0 16.7h1M464.9 13.3h1M476.6 12.9h1M465.0 14.2h1M477.3 13.8h1M476.0 15.1h1M465.0 15.9h1M477.0 14.1h1M492.8 14.0h1M468.6 13.0h1M486.3 20.0h1M493.7 15.6h1M490.2 19.9h1M478.8 18.6h1M469.2 16.3h1M468.2 19.5h1M463.8 13.4h1M476.7 21.5h1M485.9 16.4h1M471.8 14.5h1M468.0 14.5h1M465.1 15.7h1M461.4 12.8h1M483.2 13.4h1M477.0 12.6h1M486.2 15.3h1M478.0 13.2h1M481.6 13.8h1M488.3 14.3h1M493.1 13.0h1M473.5 20.4h1M491.7 13.7h1M481.3 15.1h1M491.7 14.9h1M462.2 13.9h1M475.9 14.2h1M486.5 14.5h1M480.8 16.3h1M484.1 14.0h1M461.4 15.3h1M477.2 13.4h1M478.4 16.9h1M482.1 14.1h1M467.9 19.9h1M493.7 13.3h1M471.9 15.6h1M483.7 14.5h1M461.8 14.2h1M489.2 14.2h1M461.0 14.9h1M476.4 14.4h1M480.1 13.0h1M469.2 14.6h1M465.1 14.7h1M465.7 13.1h1M478.8 19.8h1M462.9 16.6h1M469.0 15.1h1M476.4 17.1h1M474.9 17.0h1M490.2 16.3h1M493.5 13.6h1M474.9 22.0h1M462.8 14.1h1M461.6 13.5h1M470.8 15.0h1M490.6 22.6h1M475.3 20.1h1M488.4 13.9h1M483.2 14.5h1M469.3 12.7h1M483.4 18.7h1M491.6 16.2h1M493.7 13.1h1M491.5 14.0h1M480.4 15.1h1M469.7 18.1h1M469.0 15.8h1M484.0 16.1h1M463.5 12.8h1M477.0 18.1h1M483.9 12.7h1M477.2 13.0h1M484.0 14.0h1M467.1 18.1h1M493.6 13.1h1M475.6 15.3h1M493.6 13.6h1M493.7 16.5h1M491.6 13.2h1M473.2 19.0h1M483.6 12.7h1M468.6 14.6h1M468.3 12.6h1M465.6 13.6h1M474.8 13.9h1M480.8 13.3h1M493.0 15.8h1M485.0 14.2h1M475.9 14.6h1M461.6 16.6h1M484.0 14.5h1M493.7 15.8h1M487.1 15.4h1M482.6 17.4h1M485.0 15.1h1M487.1 13.1h1M471.2 12.8h1M481.4 19.9h1M489.9 16.3h1M467.7 16.3h1M461.5 18.8h1M470.3 13.9h1M463.4 15.0h1M484.7 12.6h1M461.1 12.9h1M485.2 15.6h1M492.8 12.7h1M494.0 14.7h1M478.8 15.4h1M471.9 16.5h1M469.8 14.8h1M462.9 14.6h1M464.1 13.7h1M482.2 13.5h1M487.9 15.5h1M485.8 15.0h1M467.4 16.4h1M492.6 13.7h1M466.2 13.0h1M484.5 17.3h1M468.8 16.7h1M488.1 13.1h1M480.9 14.2h1M467.5 14.4h1M487.9 19.5h1M468.9 17.4h1M480.2 15.8h1M465.7 14.4h1M464.7 17.4h1M482.6 12.7h1M475.4 15.6h1M479.1 12.7h1M485.6 13.5h1M468.5 13.9h1M484.5 18.0h1M481.9 14.7h1M471.6 14.1h1" stroke="#000" stroke-width="1" opacity="0.6"/>
<path d="M493.4 18.1h1M492.3 20.5h1M494.0 37.9h1M487.6 46.5h1M494.1 23.7h1M491.7 38.1h1M489.8 15.7h1M493.1 14.2h1M492.7 45.6h1M492.4 16.7h1M491.2 37.9h1M493.1 26.2h1M492.0 36.2h1M493.1 37.8h1M490.9 39.8h1M492.0 45.4h1M491.9 45.7h1M493.6 28.7h1M493.7 35.1h1M493.9 44.8h1M491.9 34.5h1M491.8 23.1h1M488.9 39.9h1M492.2 28.0h1M491.6 15.8h1M492.9 46.7h1M491.9 39.8h1M494.0 17.3h1M493.8 18.3h1M494.0 31.4h1M493.8 18.7h1M492.9 39.7h1M491.8 16.9h1M493.4 21.1h1M493.0 21.7h1M488.3 29.3h1M489.6 46.5h1M492.4 29.0h1M493.0 37.9h1M492.9 46.5h1M489.3 24.5h1M490.4 21.3h1M490.5 17.8h1M492.9 18.6h1M492.2 38.9h1M493.6 27.4h1M492.8 41.7h1M491.6 12.9h1M491.0 39.6h1M488.3 46.3h1M489.7 24.1h1M490.7 21.9h1M489.0 25.5h1M492.4 25.9h1M492.4 16.4h1M493.7 27.1h1M486.3 35.1h1M489.9 21.2h1M490.6 45.1h1M490.9 38.3h1M483.5 39.3h1M493.8 35.8h1M492.2 26.0h1M493.9 31.6h1M493.2 24.4h1M493.4 42.5h1M491.7 42.6h1M493.4 45.8h1M493.5 38.9h1M492.4 14.2h1M489.8 43.4h1M490.8 24.5h1M493.7 40.3h1M493.4 20.1h1M487.1 24.6h1M493.2 13.4h1M494.2 15.0h1M492.3 14.9h1M492.3 26.8h1M491.8 23.5h1M485.6 34.9h1M491.4 44.4h1M492.2 38.5h1M491.9 32.9h1M487.5 16.3h1M488.6 30.9h1M491.1 29.7h1M487.9 36.1h1M490.9 19.9h1M492.5 46.5h1M492.1 37.2h1M488.7 13.7h1M488.7 33.5h1M489.2 27.7h1M492.4 15.8h1M487.7 40.5h1M493.9 25.2h1M493.9 41.0h1M488.5 20.3h1M485.7 27.9h1M486.6 26.0h1M492.7 19.7h1M486.1 23.2h1M491.9 19.1h1M489.3 31.9h1M489.1 17.6h1M489.9 40.7h1M490.7 39.5h1M492.3 43.3h1M489.1 19.9h1M488.1 13.3h1M486.4 44.5h1M485.7 32.4h1M490.1 27.5h1M489.7 33.9h1M491.8 30.7h1M493.3 12.7h1M493.6 20.9h1M488.5 21.6h1M492.5 33.9h1M493.4 38.1h1M489.9 39.1h1M493.5 22.2h1M488.9 42.3h1M493.8 46.0h1M493.7 40.8h1M492.2 35.2h1M491.5 47.9h1M491.5 21.2h1M489.1 19.6h1" stroke="#000" stroke-width="1" opacity="0.6"/>
<path d="M465.5 27.3h1M481.0 23.4h1M465.5 20.4h1M462.9 19.5h1M470.7 30.7h1M466.2 29.8h1M475.0 47.5h1M476.5 46.5h1M476.0 19.6h1M480.1 17.7h1M465.8 15.1h1M483.8 47.3h1M473.7 25.2h1M474.5 25.2h1M483.5 26.6h1M465.2 43.6h1M479.5 12.7h1M488.9 38.7h1M472.1 35.2h1M491.3 27.0h1M474.7 23.2h1M478.8 36.4h1M485.0 46.7h1M464.9 25.7h1M489.0 41.0h1M480.1 36.9h1M471.6 46.5h1M478.7 27.0h1M466.2 16.7h1M490.5 41.3h1M460.9 24.1h1M476.3 30.3h1M472.4 44.7h1M471.9 31.7h1M491.6 35.5h1M476.2 24.5h1M473.2 34.4h1M486.7 21.9h1M472.6 26.5h1M472.3 45.4h1M478.3 22.4h1M471.3 42.1h1M465.4 37.3h1M460.7 19.5h1M462.0 41.5h1M465.0 20.7h1M462.0 22.0h1M484.9 38.4h1M491.0 46.6h1M478.7 45.7h1M463.0 45.8h1M474.8 19.4h1M485.4 43.4h1M473.1 15.9h1M489.7 39.6h1M480.3 47.7h1M461.3 14.5h1M464.2 13.3h1M484.1 35.2h1M463.8 18.3h1M466.2 34.4h1M482.9 47.4h1M472.3 47.7h1M474.8 26.6h1M468.6 20.9h1M493.1 48.3h1M484.0 18.8h1M466.1 18.0h1M471.9 39.0h1M462.0 31.6h1M483.1 13.7h1M474.9 41.0h1M479.6 28.8h1M490.0 34.1h1M471.5 26.8h1M492.1 43.4h1M491.1 32.7h1M464.8 18.8h1M473.0 37.4h1M460.2 41.4h1M486.7 31.0h1M460.2 41.2h1M474.1 36.6h1M479.4 38.7h1M473.9 47.1h1M492.5 45.9h1M480.9 23.9h1M472.8 22.2h1M490.7 41.0h1M486.8 42.1h1M493.7 37.3h1M470.8 39.8h1M468.9 34.5h1M465.4 43.4h1M476.6 22.4h1M491.4 15.5h1M491.6 39.8h1M465.1 39.9h1M479.5 45.2h1M479.9 27.9h1M491.7 15.6h1M486.4 16.2h1M469.4 16.6h1M489.6 28.4h1M484.7 21.7h1M484.8 35.9h1M463.3 30.3h1M484.5 20.2h1M482.2 22.5h1M472.6 45.6h1M492.1 48.4h1M474.5 33.1h1M487.5 39.8h1M475.5 43.6h1M473.6 46.7h1M476.1 16.8h1M485.5 17.7h1M483.1 14.4h1M493.6 32.0h1M485.2 17.2h1M481.7 26.1h1M468.5 41.8h1M461.1 29.7h1M463.0 43.2h1M490.4 13.7h1M475.8 29.4h1M484.4 38.7h1M471.7 46.1h1M466.3 17.4h1M487.7 16.8h1M466.3 30.5h1M471.4 18.4h1M491.6 29.6h1M486.7 21.5h1M491.0 20.5h1M490.8 34.6h1M493.0 40.3h1M481.4 31.7h1M489.1 28.5h1M463.3 45.4h1M487.4 37.1h1M485.3 20.9h1M475.8 42.1h1M492.7 45.7h1M465.5 37.1h1M478.8 27.1h1M465.7 17.4h1M476.0 30.3h1M469.1 25.7h1M478.8 39.9h1M480.0 18.3h1M490.1 25.7h1M492.6 47.8h1M464.8 33.5h1M492.9 26.4h1M478.6 23.8h1M461.0 19.9h1M464.2 22.7h1M481.4 32.8h1M492.2 37.2h1M472.3 46.7h1M481.6 32.1h1M489.3 36.6h1M472.3 34.3h1M470.2 47.4h1M468.3 47.5h1M462.2 12.9h1M478.8 19.9h1M477.3 16.8h1M488.5 36.6h1M483.3 45.9h1M493.7 36.9h1M484.2 12.6h1M461.7 27.9h1M492.9 23.8h1M479.3 12.8h1M474.1 45.0h1M480.0 42.2h1M460.4 19.8h1M466.1 42.5h1M463.5 46.1h1M469.1 44.2h1M477.5 24.1h1M492.9 27.1h1M483.7 14.9h1M488.2 47.8h1M463.8 39.4h1M469.2 17.8h1M472.4 36.3h1M492.4 48.3h1M493.8 34.9h1M482.2 18.3h1M484.7 32.3h1M472.2 44.9h1M468.7 17.6h1M465.4 17.9h1M480.0 41.3h1M465.4 30.6h1M479.5 32.7h1M474.0 32.1h1" stroke="#000" stroke-width="1" opacity="0.4"/>
<path d="M460.5 58.8h1M468.3 52.7h1M486.5 49.9h1M468.5 67.6h1M463.2 58.8h1M471.7 50.4h1M486.8 51.6h1M489.2 63.7h1M475.8 71.7h1M481.1 49.4h1M466.3 52.8h1M471.6 50.8h1M463.1 55.2h1M470.8 57.4h1M477.9 55.9h1M465.4 51.9h1M470.7 58.9h1M484.7 68.6h1M475.0 50.5h1M464.3 51.6h1M489.7 52.5h1M481.9 53.7h1M462.0 58.0h1M463.6 49.4h1M486.0 51.5h1M465.9 60.7h1M483.4 62.4h1M463.2 55.0h1M491.6 56.1h1M473.9 49.2h1M466.9 62.0h1M471.7 50.5h1M467.8 63.8h1M474.0 53.0h1M465.5 58.8h1M462.5 78.4h1M492.2 57.2h1M463.5 60.6h1M466.8 49.2h1M483.4 67.2h1M470.2 49.5h1M492.7 53.5h1M464.9 59.4h1M476.9 59.6h1M484.4 59.9h1M480.2 52.0h1M485.0 49.5h1M488.0 55.7h1M461.9 54.7h1M480.4 50.6h1M484.3 58.1h1M472.8 50.9h1M475.3 53.4h1M485.4 49.1h1M490.3 52.8h1M490.5 53.4h1M485.1 56.3h1M483.5 55.5h1M460.1 58.0h1M490.6 51.5h1M487.5 68.9h1M490.3 71.4h1M482.5 62.9h1M493.2 55.1h1M478.2 51.7h1M476.9 54.0h1M477.9 57.3h1M480.6 50.4h1M477.6 56.9h1M477.6 61.9h1M466.5 56.2h1M478.6 51.8h1M484.6 65.9h1M487.3 56.5h1M492.4 49.8h1M477.9 54.9h1M474.1 54.9h1M484.8 53.8h1M485.6 59.4h1M467.5 58.0h1M470.7 51.8h1M472.6 49.5h1M467.3 65.3h1M468.2 52.1h1M483.7 63.2h1M482.2 51.8h1M462.1 56.5h1M472.6 74.0h1M478.4 54.2h1M483.5 66.7h1M468.0 52.8h1M471.8 62.8h1M485.8 60.2h1M477.1 54.4h1M477.1 54.8h1M484.9 64.4h1M490.4 60.9h1M475.4 56.6h1M494.1 53.1h1M466.4 53.4h1M492.3 55.8h1M489.8 58.6h1M491.2 66.0h1M475.0 55.1h1M473.1 65.1h1M464.2 57.8h1M473.9 55.2h1M480.8 49.1h1M473.7 51.0h1M473.3 58.6h1M486.6 49.7h1M471.7 55.0h1M466.6 61.6h1M460.7 55.3h1M470.3 61.2h1M467.0 62.5h1M468.2 66.3h1M480.5 56.9h1M461.3 53.0h1M471.4 57.4h1M477.9 59.7h1M464.3 51.0h1M474.6 57.4h1M472.7 53.1h1M468.4 53.6h1M480.6 54.9h1M473.2 66.3h1M488.4 53.2h1M469.4 50.9h1M461.9 54.3h1M481.9 53.9h1M487.2 55.9h1M473.6 59.6h1M488.0 55.1h1M486.3 53.7h1M475.4 53.4h1M476.2 49.2h1M467.4 53.4h1M463.2 49.1h1M472.9 59.9h1M470.1 53.9h1M484.6 77.2h1M465.9 51.9h1M477.9 58.6h1M490.1 49.4h1M467.3 55.8h1M471.7 55.5h1M481.5 56.5h1M463.0 52.2h1M493.4 52.4h1M483.0 52.6h1M478.6 53.2h1M489.6 56.9h1M471.9 70.8h1M472.6 61.4h1M474.1 56.7h1M483.3 61.5h1M475.6 55.0h1M487.6 53.1h1M476.0 53.8h1M485.7 57.4h1M461.0 53.8h1M483.9 74.0h1M483.6 60.3h1M466.9 49.2h1M466.1 58.4h1M469.1 61.2h1M482.6 58.0h1M466.0 59.4h1M477.8 53.9h1M464.7 60.6h1M476.9 53.0h1M470.8 52.6h1M483.8 62.3h1M487.3 53.0h1M480.0 50.9h1M489.1 59.6h1M479.8 49.2h1M475.7 58.5h1M493.9 55.4h1M463.7 62.1h1M481.4 71.8h1M494.0 53.8h1M485.5 51.1h1M466.2 68.2h1M489.0 50.8h1M491.2 49.2h1M475.4 56.4h1M478.6 62.4h1M490.2 55.2h1M471.9 69.5h1M460.9 50.9h1M462.5 52.2h1M481.8 53.3h1M470.2 53.1h1" stroke="#000" stroke-width="1" opacity="0.45"/>
<path d="M469.5 82.1h1M490.8 80.3h1M493.7 64.8h1M487.1 59.1h1M491.5 78.2h1M484.9 57.2h1M463.1 82.3h1M478.8 71.0h1M489.3 54.2h1M483.8 65.7h1M486.7 65.4h1M466.7 83.4h1M469.6 75.8h1M488.3 57.9h1M483.6 63.3h1M467.6 56.8h1M492.4 62.3h1M477.3 67.0h1M460.9 76.1h1M485.3 80.5h1M472.1 56.6h1M471.8 75.4h1M482.4 63.6h1M477.8 54.5h1M491.2 66.0h1M477.2 77.3h1M466.7 75.0h1M472.0 78.2h1M463.2 58.9h1M481.6 66.4h1M472.8 69.8h1M467.4 64.7h1M460.1 77.8h1M468.6 78.9h1M478.8 70.7h1M481.3 53.5h1M486.4 59.5h1M489.3 77.3h1M483.1 78.3h1M474.8 73.2h1M492.4 55.8h1M463.4 63.8h1M477.3 54.4h1M467.5 80.2h1M473.2 54.4h1M466.2 69.8h1M466.5 66.1h1M478.3 64.8h1M477.1 79.1h1M460.6 82.5h1M466.8 50.4h1M486.1 69.5h1M478.3 56.8h1M486.6 60.0h1M484.7 57.2h1M479.5 72.3h1M472.6 66.3h1M462.2 72.2h1M483.5 54.5h1M478.7 75.4h1M463.4 79.2h1M489.6 50.8h1M468.4 52.0h1M468.6 52.1h1M476.6 58.0h1M470.2 65.6h1M472.6 77.4h1M484.6 53.1h1M467.6 49.3h1M471.2 52.9h1" stroke="#000" stroke-width="1" opacity="0.35"/>
<path d="M456.2 38.6h1M455.6 48.4h1M450.8 46.2h1M449.2 41.2h1M455.6 45.3h1M448.1 42.1h1M453.6 48.0h1M451.1 44.5h1M456.2 42.5h1M456.8 43.0h1M455.0 44.6h1M455.6 42.0h1M452.7 46.6h1M458.8 40.8h1M457.7 46.7h1M452.0 39.4h1M458.2 48.4h1M454.1 42.4h1M455.9 42.9h1M456.1 44.8h1M457.1 39.1h1M457.0 40.2h1M455.0 41.2h1M453.7 47.6h1M455.9 41.3h1M457.6 45.8h1M457.0 44.2h1M457.9 43.5h1M450.3 45.4h1M452.9 42.0h1" stroke="#000" stroke-width="1" opacity="0.3"/>
<rect x="422.5" y="12.5" width="73.0" height="72.0" fill="none" stroke="#333" stroke-width="1"/>
<line x1="459.5" y1="12.5" x2="459.5" y2="84.5" stroke="#333" stroke-width="1"/>
<line x1="422.5" y1="48.5" x2="495.5" y2="48.5" stroke="#333" stroke-width="1"/>
<text x="433.2" y="34.6" font-size="11.4" font-weight="normal" text-anchor="start" font-family='"Liberation Sans", Arial, sans-serif' stroke="#000" stroke-width="0.35">2</text>
<text x="474" y="34.6" font-size="11.4" font-weight="normal" text-anchor="start" font-family='"Liberation Sans", Arial, sans-serif' stroke="#000" stroke-width="0.35">22</text>
<text x="474.3" y="73.8" font-size="11.4" font-weight="bold" text-anchor="start" font-family='"Liberation Sans", Arial, sans-serif' fill="#111">1<tspan font-weight="normal" stroke="#000" stroke-width="0.35">7</tspan></text>
<text x="279.3" y="88.8" font-size="6.3" text-anchor="middle" font-family='"Liberation Serif", "Times New Roman", serif'>10<tspan dy="-2" font-size="4">0</tspan></text>
<text x="297.2" y="88.8" font-size="6.3" text-anchor="middle" font-family='"Liberation Serif", "Times New Roman", serif'>10<tspan dy="-2" font-size="4">1</tspan></text>
<text x="315.1" y="88.8" font-size="6.3" text-anchor="middle" font-family='"Liberation Serif", "Times New Roman", serif'>10<tspan dy="-2" font-size="4">2</tspan></text>
<text x="332.9" y="88.8" font-size="6.3" text-anchor="middle" font-family='"Liberation Serif", "Times New Roman", serif'>10<tspan dy="-2" font-size="4">3</tspan></text>
<text x="350.8" y="88.8" font-size="6.3" text-anchor="middle" font-family='"Liberation Serif", "Times New Roman", serif'>10<tspan dy="-2" font-size="4">4</tspan></text>
<text x="0" y="0" font-size="6.3" text-anchor="middle" font-family='"Liberation Serif", "Times New Roman", serif' transform="translate(272.7,78.9) rotate(-90)">10<tspan dy="-2" font-size="4">0</tspan></text>
<text x="0" y="0" font-size="6.3" text-anchor="middle" font-family='"Liberation Serif", "Times New Roman", serif' transform="translate(272.7,61.1) rotate(-90)">10<tspan dy="-2" font-size="4">1</tspan></text>
<text x="0" y="0" font-size="6.3" text-anchor="middle" font-family='"Liberation Serif", "Times New Roman", serif' transform="translate(272.7,43.4) rotate(-90)">10<tspan dy="-2" font-size="4">2</tspan></text>
<text x="0" y="0" font-size="6.3" text-anchor="middle" font-family='"Liberation Serif", "Times New Roman", serif' transform="translate(272.7,25.6) rotate(-90)">10<tspan dy="-2" font-size="4">3</tspan></text>
<text x="0" y="0" font-size="6.3" text-anchor="middle" font-family='"Liberation Serif", "Times New Roman", serif' transform="translate(272.7,7.8) rotate(-90)">10<tspan dy="-2" font-size="4">4</tspan></text>
<text x="311" y="95" font-size="7" font-weight="normal" text-anchor="middle" font-family='"Liberation Serif", "Times New Roman", serif' >FITC</text>
<text x="0" y="0" font-size="7" font-weight="normal" text-anchor="middle" font-family='"Liberation Serif", "Times New Roman", serif' transform="translate(264.5,45.5) rotate(-90)">PI-log</text>
<text x="426.6" y="91.1" font-size="6.3" text-anchor="middle" font-family='"Liberation Serif", "Times New Roman", serif'>10<tspan dy="-2" font-size="4">0</tspan></text>
<text x="444.8" y="91.1" font-size="6.3" text-anchor="middle" font-family='"Liberation Serif", "Times New Roman", serif'>10<tspan dy="-2" font-size="4">1</tspan></text>
<text x="463.1" y="91.1" font-size="6.3" text-anchor="middle" font-family='"Liberation Serif", "Times New Roman", serif'>10<tspan dy="-2" font-size="4">2</tspan></text>
<text x="481.3" y="91.1" font-size="6.3" text-anchor="middle" font-family='"Liberation Serif", "Times New Roman", serif'>10<tspan dy="-2" font-size="4">3</tspan></text>
<text x="499.5" y="91.1" font-size="6.3" text-anchor="middle" font-family='"Liberation Serif", "Times New Roman", serif'>10<tspan dy="-2" font-size="4">4</tspan></text>
<text x="0" y="0" font-size="6.3" text-anchor="middle" font-family='"Liberation Serif", "Times New Roman", serif' transform="translate(420.2,81.5) rotate(-90)">10<tspan dy="-2" font-size="4">0</tspan></text>
<text x="0" y="0" font-size="6.3" text-anchor="middle" font-family='"Liberation Serif", "Times New Roman", serif' transform="translate(420.2,63.3) rotate(-90)">10<tspan dy="-2" font-size="4">1</tspan></text>
<text x="0" y="0" font-size="6.3" text-anchor="middle" font-family='"Liberation Serif", "Times New Roman", serif' transform="translate(420.2,45.1) rotate(-90)">10<tspan dy="-2" font-size="4">2</tspan></text>
<text x="0" y="0" font-size="6.3" text-anchor="middle" font-family='"Liberation Serif", "Times New Roman", serif' transform="translate(420.2,27.0) rotate(-90)">10<tspan dy="-2" font-size="4">3</tspan></text>
<text x="0" y="0" font-size="6.3" text-anchor="middle" font-family='"Liberation Serif", "Times New Roman", serif' transform="translate(420.2,8.8) rotate(-90)">10<tspan dy="-2" font-size="4">4</tspan></text>
<text x="459.2" y="98.4" font-size="7" font-weight="normal" text-anchor="middle" font-family='"Liberation Serif", "Times New Roman", serif' >FITC</text>
<text x="0" y="0" font-size="7" font-weight="normal" text-anchor="middle" font-family='"Liberation Serif", "Times New Roman", serif' transform="translate(411.5,48) rotate(-90)">PI-log</text>
<text x="308.8" y="122.6" font-size="19" font-weight="normal" text-anchor="middle" font-family='"Liberation Sans", Arial, sans-serif' >i</text>
<text x="460.6" y="123.1" font-size="18.4" font-weight="normal" text-anchor="middle" font-family='"Liberation Sans", Arial, sans-serif' >iv</text>
<text x="307.4" y="239.6" font-size="18.8" font-weight="normal" text-anchor="middle" font-family='"Liberation Sans", Arial, sans-serif' >i</text>
<text x="460.7" y="239.7" font-size="18.8" font-weight="normal" text-anchor="middle" font-family='"Liberation Sans", Arial, sans-serif' >iv</text>
<line x1="274" y1="131" x2="274" y2="205.6" stroke="#555" stroke-width="1"/>
<line x1="274" y1="205.6" x2="358.6" y2="205.6" stroke="#333" stroke-width="1"/>
<line x1="358.6" y1="132.5" x2="358.6" y2="205.6" stroke="#555" stroke-width="1"/>
<polyline points="274.0,205.4 274.6,205.4 275.2,205.4 275.8,205.4 276.4,205.4 277.0,205.4 277.6,205.4 278.2,205.4 278.8,205.4 279.4,205.4 280.0,205.4 280.6,205.4 281.2,205.4 281.8,205.4 282.4,205.4 283.0,205.4 283.6,205.4 284.2,205.4 284.8,205.4 285.4,205.4 286.0,205.4 286.6,205.4 287.2,205.4 287.8,205.4 288.4,205.4 289.0,205.4 289.6,205.4 290.2,205.4 290.8,205.4 291.4,205.4 292.0,205.4 292.6,205.4 293.2,205.4 293.8,205.4 294.4,205.4 295.0,205.3 295.6,205.3 296.2,205.3 296.8,205.3 297.4,205.3 298.0,205.3 298.6,205.3 299.2,205.3 299.8,205.3 300.4,205.3 301.0,205.3 301.6,205.3 302.2,205.3 302.8,205.3 303.4,205.3 304.0,205.3 304.6,205.3 305.2,205.3 305.8,205.3 306.4,205.3 307.0,205.3 307.6,205.3 308.2,205.3 308.8,205.3 309.4,205.3 310.0,205.3 310.6,205.3 311.2,205.3 311.8,205.3 312.4,205.3 313.0,205.3 313.6,205.3 314.2,205.3 314.8,205.3 315.4,205.3 316.0,205.3 316.6,205.1 317.2,203.7 317.8,205.0 318.4,204.4 319.0,202.9 319.6,203.1 320.2,202.2 320.8,201.6 321.4,201.0 322.0,198.5 322.6,198.2 323.2,199.8 323.8,197.9 324.4,197.8 325.0,195.1 325.6,195.9 326.2,196.5 326.8,194.9 327.4,196.4 328.0,196.1 328.6,192.9 329.2,187.8 329.8,184.5 330.4,182.6 331.0,172.3 331.6,165.4 332.2,162.9 332.8,154.8 333.4,151.3 334.0,150.3 334.6,147.5 335.2,145.3 335.8,146.4 336.4,148.4 337.0,150.0 337.6,153.4 338.2,157.9 338.8,162.0 339.4,167.0 340.0,173.5 340.6,174.5 341.2,182.1 341.8,186.8 342.4,186.8 343.0,192.4 343.6,197.1 344.2,197.8 344.8,200.4 345.4,201.4 346.0,204.1 346.6,204.0 347.2,203.5 347.8,204.8 348.4,205.2 349.0,205.4 349.6,205.4 350.2,205.4 350.8,205.4 351.4,205.4 352.0,205.4 352.6,205.4 353.2,205.4 353.8,205.4 354.4,205.4 355.0,205.4 355.6,205.4 356.2,205.4 356.8,205.4 357.4,205.4 358.0,205.4" fill="none" stroke="#000" stroke-width="0.75"/>
<polyline points="274.0,205.4 274.6,205.4 275.2,205.4 275.8,205.4 276.4,205.4 277.0,205.4 277.6,205.4 278.2,205.4 278.8,205.4 279.4,205.4 280.0,205.4 280.6,205.4 281.2,205.4 281.8,205.4 282.4,205.4 283.0,205.4 283.6,205.4 284.2,205.4 284.8,205.4 285.4,205.4 286.0,205.4 286.6,205.4 287.2,205.4 287.8,205.4 288.4,205.4 289.0,205.4 289.6,205.4 290.2,205.4 290.8,205.4 291.4,205.4 292.0,205.4 292.6,205.4 293.2,205.4 293.8,205.4 294.4,205.4 295.0,205.4 295.6,205.4 296.2,205.4 296.8,205.3 297.4,205.3 298.0,205.3 298.6,205.3 299.2,205.3 299.8,205.3 300.4,205.3 301.0,205.3 301.6,205.3 302.2,205.3 302.8,205.3 303.4,205.3 304.0,205.3 304.6,205.3 305.2,205.3 305.8,205.3 306.4,205.3 307.0,205.3 307.6,205.3 308.2,205.3 308.8,205.3 309.4,205.3 310.0,205.3 310.6,205.3 311.2,205.3 311.8,205.3 312.4,205.3 313.0,205.3 313.6,205.3 314.2,205.3 314.8,205.3 315.4,205.3 316.0,205.3 316.6,205.3 317.2,205.3 317.8,205.2 318.4,204.9 319.0,205.6 319.6,205.1 320.2,202.4 320.8,202.3 321.4,203.6 322.0,202.4 322.6,201.1 323.2,199.3 323.8,199.8 324.4,199.5 325.0,198.7 325.6,196.7 326.2,196.5 326.8,195.9 327.4,196.6 328.0,197.1 328.6,196.6 329.2,195.3 329.8,194.9 330.4,191.3 331.0,185.1 331.6,182.6 332.2,177.3 332.8,168.0 333.4,165.2 334.0,160.6 334.6,153.2 335.2,151.7 335.8,148.3 336.4,145.2 337.0,145.9 337.6,147.2 338.2,149.9 338.8,152.8 339.4,157.1 340.0,159.7 340.6,164.5 341.2,171.2 341.8,174.9 342.4,178.8 343.0,184.5 343.6,187.2 344.2,189.7 344.8,196.4 345.4,197.9 346.0,197.3 346.6,201.1 347.2,203.1 347.8,203.4 348.4,203.8 349.0,204.3 349.6,204.9 350.2,205.3 350.8,205.4 351.4,205.4 352.0,205.4 352.6,205.4 353.2,205.4 353.8,205.4 354.4,205.4 355.0,205.4 355.6,205.4 356.2,205.4 356.8,205.4 357.4,205.4 358.0,205.4" fill="none" stroke="#000" stroke-width="0.75"/>
<rect x="272.7" y="207.79999999999998" width="2.6" height="1.6" fill="#222"/>
<rect x="300.9" y="207.79999999999998" width="2.6" height="1.6" fill="#222"/>
<rect x="329.1" y="207.79999999999998" width="2.6" height="1.6" fill="#222"/>
<rect x="357.3" y="207.79999999999998" width="2.6" height="1.6" fill="#222"/>
<line x1="423.6" y1="132.3" x2="423.6" y2="209" stroke="#555" stroke-width="1"/>
<line x1="423.6" y1="209" x2="506.3" y2="209" stroke="#333" stroke-width="1"/>
<line x1="506.3" y1="133.8" x2="506.3" y2="209" stroke="#555" stroke-width="1"/>
<polyline points="423.6,208.8 424.2,208.8 424.8,208.8 425.4,208.8 426.0,208.8 426.6,208.8 427.2,208.8 427.8,208.8 428.4,208.8 429.0,208.8 429.6,208.8 430.2,208.8 430.8,208.8 431.4,208.8 432.0,208.8 432.6,208.8 433.2,208.8 433.8,208.8 434.4,208.8 435.0,208.8 435.6,208.8 436.2,208.8 436.8,208.8 437.4,208.8 438.0,208.8 438.6,208.8 439.2,208.7 439.8,208.7 440.4,208.7 441.0,208.7 441.6,208.7 442.2,208.7 442.8,208.7 443.4,208.7 444.0,208.7 444.6,208.7 445.2,208.7 445.8,208.7 446.4,208.7 447.0,208.7 447.6,208.7 448.2,208.7 448.8,208.7 449.4,208.7 450.0,208.7 450.6,208.7 451.2,208.7 451.8,208.7 452.4,208.7 453.0,208.7 453.6,208.7 454.2,208.7 454.8,208.7 455.4,208.7 456.0,208.6 456.6,208.5 457.2,208.3 457.8,208.4 458.4,208.5 459.0,208.4 459.6,208.6 460.2,208.0 460.8,208.4 461.4,206.0 462.0,206.6 462.6,207.0 463.2,205.4 463.8,205.2 464.4,202.5 465.0,203.2 465.6,201.5 466.2,199.5 466.8,196.3 467.4,192.1 468.0,191.5 468.6,188.6 469.2,184.2 469.8,179.3 470.4,175.4 471.0,169.9 471.6,161.0 472.2,160.1 472.8,156.4 473.4,152.8 474.0,153.0 474.6,147.7 475.2,145.6 475.8,151.8 476.4,156.1 477.0,156.6 477.6,164.3 478.2,166.2 478.8,169.3 479.4,172.6 480.0,177.3 480.6,179.1 481.2,182.1 481.8,179.5 482.4,174.2 483.0,171.9 483.6,168.0 484.2,160.4 484.8,156.7 485.4,152.5 486.0,148.4 486.6,145.7 487.2,145.4 487.8,144.7 488.4,147.9 489.0,151.8 489.6,154.0 490.2,160.5 490.8,164.2 491.4,172.6 492.0,178.8 492.6,183.5 493.2,186.5 493.8,193.6 494.4,193.8 495.0,195.5 495.6,195.3 496.2,195.9 496.8,199.3 497.4,201.3 498.0,200.2 498.6,199.6 499.2,199.9 499.8,202.4 500.4,200.8 501.0,201.4 501.6,201.5 502.2,202.4 502.8,203.3 503.4,201.3 504.0,200.4 504.6,202.2 505.2,202.9" fill="none" stroke="#000" stroke-width="0.75"/>
<polyline points="423.6,208.8 424.2,208.8 424.8,208.8 425.4,208.8 426.0,208.8 426.6,208.8 427.2,208.8 427.8,208.8 428.4,208.8 429.0,208.8 429.6,208.8 430.2,208.8 430.8,208.8 431.4,208.8 432.0,208.8 432.6,208.8 433.2,208.8 433.8,208.8 434.4,208.8 435.0,208.8 435.6,208.8 436.2,208.8 436.8,208.8 437.4,208.8 438.0,208.8 438.6,208.8 439.2,208.8 439.8,208.8 440.4,208.8 441.0,208.7 441.6,208.7 442.2,208.7 442.8,208.7 443.4,208.7 444.0,208.7 444.6,208.7 445.2,208.7 445.8,208.7 446.4,208.7 447.0,208.7 447.6,208.7 448.2,208.7 448.8,208.7 449.4,208.7 450.0,208.7 450.6,208.7 451.2,208.7 451.8,208.7 452.4,208.7 453.0,208.7 453.6,208.7 454.2,208.7 454.8,208.7 455.4,208.7 456.0,208.7 456.6,208.7 457.2,208.6 457.8,208.5 458.4,208.4 459.0,208.9 459.6,208.8 460.2,207.7 460.8,207.0 461.4,206.1 462.0,207.8 462.6,207.2 463.2,207.7 463.8,206.0 464.4,206.2 465.0,204.0 465.6,204.6 466.2,204.0 466.8,202.8 467.4,201.0 468.0,198.2 468.6,193.8 469.2,192.7 469.8,192.1 470.4,185.6 471.0,181.2 471.6,178.6 472.2,174.0 472.8,164.7 473.4,159.1 474.0,159.6 474.6,156.5 475.2,152.6 475.8,150.2 476.4,145.4 477.0,148.4 477.6,152.6 478.2,157.2 478.8,160.2 479.4,164.7 480.0,167.5 480.6,170.7 481.2,176.3 481.8,177.8 482.4,180.5 483.0,180.5 483.6,177.1 484.2,173.9 484.8,172.8 485.4,163.9 486.0,158.2 486.6,156.3 487.2,149.5 487.8,148.0 488.4,144.8 489.0,145.5 489.6,146.6 490.2,149.0 490.8,152.0 491.4,157.0 492.0,162.7 492.6,167.2 493.2,176.0 493.8,179.8 494.4,186.3 495.0,190.2 495.6,192.5 496.2,196.1 496.8,195.0 497.4,195.9 498.0,198.6 498.6,199.8 499.2,200.6 499.8,200.5 500.4,201.7 501.0,201.5 501.6,202.8 502.2,201.4 502.8,201.8 503.4,201.3 504.0,201.3 504.6,202.0 505.2,200.1" fill="none" stroke="#000" stroke-width="0.75"/>
<rect x="422.3" y="211.2" width="2.6" height="1.6" fill="#222"/>
<rect x="449.9" y="211.2" width="2.6" height="1.6" fill="#222"/>
<rect x="477.4" y="211.2" width="2.6" height="1.6" fill="#222"/>
<rect x="505.0" y="211.2" width="2.6" height="1.6" fill="#222"/>
<rect x="271.8" y="131.5" width="1.6" height="2.2" fill="#333"/>
<rect x="421.4" y="132.8" width="1.6" height="2.2" fill="#333"/>
<polygon points="320.1,183.2 326.9,183.2 323.5,189.2" fill="#111"/>
<polygon points="469.4,135.2 475.8,135.2 472.6,140.8" fill="#111"/>
<text x="308.7" y="218.8" font-size="5.2" font-weight="bold" text-anchor="middle" font-family='"Liberation Sans", Arial, sans-serif' >rhodamine</text>
<text x="462.3" y="222.6" font-size="5.2" font-weight="bold" text-anchor="middle" font-family='"Liberation Sans", Arial, sans-serif' >rhodamine</text>
<text x="0" y="0" font-size="4" font-weight="bold" text-anchor="middle" font-family='"Liberation Sans", Arial, sans-serif' transform="translate(272,168) rotate(-90)">Events</text>
<text x="0" y="0" font-size="4" font-weight="bold" text-anchor="middle" font-family='"Liberation Sans", Arial, sans-serif' transform="translate(421.5,170) rotate(-90)">Events</text>
<text x="56.5" y="262.0" font-size="10.5" font-weight="bold" text-anchor="start" font-family='"Liberation Sans", Arial, sans-serif' stroke="#000" stroke-width="0.3" letter-spacing="-0.3">Control</text>
<text x="103.0" y="262.0" font-size="10.5" font-weight="bold" text-anchor="start" font-family='"Liberation Sans", Arial, sans-serif' stroke="#000" stroke-width="0.3" letter-spacing="-0.45">CLL #1</text>
<text x="155.5" y="262.0" font-size="10.5" font-weight="bold" text-anchor="start" font-family='"Liberation Sans", Arial, sans-serif' stroke="#000" stroke-width="0.3" letter-spacing="-0.45">CLL #2</text>
<line x1="56.7" y1="264.2" x2="90" y2="264.2" stroke="#111" stroke-width="1.6"/>
<line x1="95" y1="264.2" x2="142" y2="264.2" stroke="#111" stroke-width="1.6"/>
<line x1="149.5" y1="264.2" x2="199" y2="264.2" stroke="#111" stroke-width="1.6"/>
<text x="65.4" y="278.2" font-size="8" font-weight="bold" text-anchor="middle" font-family='"Liberation Sans", Arial, sans-serif' stroke="#000" stroke-width="0.25">1</text>
<text x="81" y="278.2" font-size="8" font-weight="bold" text-anchor="middle" font-family='"Liberation Sans", Arial, sans-serif' stroke="#000" stroke-width="0.25">2</text>
<text x="99" y="278.2" font-size="8" font-weight="bold" text-anchor="middle" font-family='"Liberation Sans", Arial, sans-serif' stroke="#000" stroke-width="0.25">3</text>
<text x="117.5" y="278.2" font-size="8" font-weight="bold" text-anchor="middle" font-family='"Liberation Sans", Arial, sans-serif' stroke="#000" stroke-width="0.25">4</text>
<text x="135.7" y="278.2" font-size="8" font-weight="bold" text-anchor="middle" font-family='"Liberation Sans", Arial, sans-serif' stroke="#000" stroke-width="0.25">5</text>
<text x="153.4" y="278.2" font-size="8" font-weight="bold" text-anchor="middle" font-family='"Liberation Sans", Arial, sans-serif' stroke="#000" stroke-width="0.25">6</text>
<text x="171.9" y="278.2" font-size="8" font-weight="bold" text-anchor="middle" font-family='"Liberation Sans", Arial, sans-serif' stroke="#000" stroke-width="0.25">7</text>
<text x="187.6" y="278.2" font-size="8" font-weight="bold" text-anchor="middle" font-family='"Liberation Sans", Arial, sans-serif' stroke="#000" stroke-width="0.25">8</text>
<text x="1.7" y="300.1" font-size="8.4" font-weight="bold" text-anchor="start" font-family='"Liberation Sans", Arial, sans-serif' stroke="#000" stroke-width="0.25">Caspase 8</text>
<text x="2.4" y="337.1" font-size="8.4" font-weight="bold" text-anchor="start" font-family='"Liberation Sans", Arial, sans-serif' stroke="#000" stroke-width="0.25">Caspase 9</text>
<text x="1.7" y="367.9" font-size="8.4" font-weight="bold" text-anchor="start" font-family='"Liberation Sans", Arial, sans-serif' stroke="#000" stroke-width="0.25">Caspase 3</text>
<text x="6.1" y="397.2" font-size="8.4" font-weight="bold" text-anchor="start" font-family='"Liberation Sans", Arial, sans-serif' stroke="#000" stroke-width="0.25">PARP</text>
<g filter="url(#bl2)">
<rect x="55" y="281.5" width="146" height="31.5" fill="#f4f4f4" stroke="none" stroke-width="1" />
<rect x="55" y="319.5" width="150" height="24" fill="#eeeeee" stroke="none" stroke-width="1" />
<rect x="47" y="357.5" width="161" height="14.5" fill="#dedede" stroke="none" stroke-width="1" />
<rect x="72" y="383" width="136" height="21" fill="#f8f8f8" stroke="none" stroke-width="1" />
</g>
<g filter="url(#bl)">
<rect x="56.5" y="288.70" width="16.299999999999997" height="5.2" rx="2.6" fill="#222"/>
<rect x="59.0" y="290.40" width="11.299999999999997" height="1.8" rx="0.9" fill="#5a5a5a"/>
<rect x="75.4" y="288.70" width="13.599999999999994" height="5.2" rx="2.6" fill="#222"/>
<rect x="77.9" y="290.40" width="8.599999999999994" height="1.8" rx="0.9" fill="#5a5a5a"/>
<rect x="92" y="288.70" width="15.5" height="5.2" rx="2.6" fill="#222"/>
<rect x="94.5" y="290.40" width="10.5" height="1.8" rx="0.9" fill="#5a5a5a"/>
<rect x="110" y="288.70" width="15.5" height="5.2" rx="2.6" fill="#222"/>
<rect x="112.5" y="290.40" width="10.5" height="1.8" rx="0.9" fill="#5a5a5a"/>
<rect x="128" y="288.70" width="15" height="5.2" rx="2.6" fill="#222"/>
<rect x="130.5" y="290.40" width="10.0" height="1.8" rx="0.9" fill="#5a5a5a"/>
<rect x="146.5" y="288.70" width="14.5" height="5.2" rx="2.6" fill="#222"/>
<rect x="149.0" y="290.40" width="9.5" height="1.8" rx="0.9" fill="#5a5a5a"/>
<rect x="164.3" y="288.70" width="14.5" height="5.2" rx="2.6" fill="#222"/>
<rect x="166.8" y="290.40" width="9.5" height="1.8" rx="0.9" fill="#5a5a5a"/>
<rect x="182.3" y="288.70" width="14.299999999999983" height="5.2" rx="2.6" fill="#222"/>
<rect x="184.8" y="290.40" width="9.299999999999983" height="1.8" rx="0.9" fill="#5a5a5a"/>
<rect x="76" y="300.50" width="11.700000000000003" height="1.8" rx="0.9" fill="#333"/>
<rect x="76" y="302.90" width="11.700000000000003" height="1.8" rx="0.9" fill="#333"/>
<rect x="504" y="0.00" width="1.5" height="0" rx="0.0" fill="#333"/>
<rect x="57.7" y="324.30" width="13.799999999999997" height="3" rx="1.5" fill="#333"/>
<rect x="57.7" y="328.00" width="13.799999999999997" height="2.4" rx="1.2" fill="#333"/>
<rect x="75.4" y="324.90" width="14.599999999999994" height="2.4" rx="1.2" fill="#333"/>
<rect x="75.4" y="328.75" width="14.599999999999994" height="1.3" rx="0.65" fill="#444"/>
<rect x="76.5" y="339.60" width="11.200000000000003" height="2.0" rx="1.0" fill="#555"/>
<rect x="93.8" y="327.80" width="15.200000000000003" height="3.2" rx="1.6" fill="#262626"/>
<rect x="112.5" y="327.80" width="15.0" height="3.2" rx="1.6" fill="#262626"/>
<rect x="131" y="327.80" width="15" height="3.4" rx="1.7" fill="#262626"/>
<rect x="149.5" y="327.70" width="14.5" height="3.4" rx="1.7" fill="#262626"/>
<rect x="167.8" y="327.50" width="14.699999999999989" height="3.0" rx="1.5" fill="#262626"/>
<rect x="186.8" y="327.10" width="13.699999999999989" height="2.4" rx="1.2" fill="#262626"/>
<rect x="113" y="322.60" width="14" height="0.8" rx="0.4" fill="#aaa"/>
<rect x="131" y="322.00" width="13" height="1" rx="0.5" fill="#999"/>
</g><g filter="url(#bl2)">
<rect x="57.4" y="358.60" width="16.9" height="10" rx="5.0" fill="#363636"/>
<rect x="76.5" y="359.60" width="14.700000000000003" height="8" rx="4.0" fill="#3e3e3e"/>
<rect x="96.2" y="362.10" width="13.799999999999997" height="5.2" rx="2.6" fill="#5a5a5a"/>
<rect x="115.4" y="362.50" width="13.099999999999994" height="4.8" rx="2.4" fill="#606060"/>
<rect x="133.2" y="362.30" width="13.800000000000011" height="5.4" rx="2.7" fill="#505050"/>
<rect x="151" y="361.70" width="15" height="6.4" rx="3.2" fill="#424242"/>
<rect x="170" y="361.60" width="14.699999999999989" height="6.4" rx="3.2" fill="#444"/>
<rect x="188.7" y="361.40" width="13.900000000000006" height="6.4" rx="3.2" fill="#555"/>
</g><g filter="url(#bl)">
<rect x="77.7" y="389.20" width="1.5" height="1.2" rx="0.6" fill="#333"/>
<rect x="76.5" y="394.30" width="14.299999999999997" height="2.8" rx="1.4" fill="#222"/>
<rect x="95.8" y="386.80" width="15.0" height="5.2" rx="2.6" fill="#2a2a2a"/>
<rect x="112.3" y="387.10" width="16.200000000000003" height="4.6" rx="2.3" fill="#2a2a2a"/>
<rect x="134.8" y="387.60" width="13.099999999999994" height="4.4" rx="2.2" fill="#2a2a2a"/>
<rect x="150.3" y="387.50" width="15.599999999999994" height="4.6" rx="2.3" fill="#2a2a2a"/>
<rect x="168.8" y="387.70" width="15.899999999999977" height="4.2" rx="2.1" fill="#2a2a2a"/>
<rect x="188.7" y="387.80" width="14.400000000000006" height="4.0" rx="2.0" fill="#2a2a2a"/>
</g>
<rect x="205.2" y="309.9" width="1.6" height="1.6" fill="#333"/>
<line x1="272.5" y1="280.4" x2="272.5" y2="390.5" stroke="#555" stroke-width="1"/>
<line x1="271" y1="390.5" x2="369.4" y2="390.5" stroke="#333" stroke-width="1"/>
<line x1="270.8" y1="390.5" x2="272.5" y2="390.5" stroke="#555" stroke-width="1"/>
<text x="268.6" y="393.2" font-size="9" font-weight="bold" text-anchor="end" font-family='"Liberation Sans", Arial, sans-serif' letter-spacing="-0.5">0</text>
<line x1="270.8" y1="368.5" x2="272.5" y2="368.5" stroke="#555" stroke-width="1"/>
<text x="268.6" y="371.2" font-size="9" font-weight="bold" text-anchor="end" font-family='"Liberation Sans", Arial, sans-serif' letter-spacing="-0.5">10</text>
<line x1="270.8" y1="346.5" x2="272.5" y2="346.5" stroke="#555" stroke-width="1"/>
<text x="268.6" y="349.2" font-size="9" font-weight="bold" text-anchor="end" font-family='"Liberation Sans", Arial, sans-serif' letter-spacing="-0.5">20</text>
<line x1="270.8" y1="324.5" x2="272.5" y2="324.5" stroke="#555" stroke-width="1"/>
<text x="268.6" y="327.2" font-size="9" font-weight="bold" text-anchor="end" font-family='"Liberation Sans", Arial, sans-serif' letter-spacing="-0.5">30</text>
<line x1="270.8" y1="302.5" x2="272.5" y2="302.5" stroke="#555" stroke-width="1"/>
<text x="268.6" y="305.2" font-size="9" font-weight="bold" text-anchor="end" font-family='"Liberation Sans", Arial, sans-serif' letter-spacing="-0.5">40</text>
<line x1="270.8" y1="280.5" x2="272.5" y2="280.5" stroke="#555" stroke-width="1"/>
<text x="268.6" y="283.2" font-size="9" font-weight="bold" text-anchor="end" font-family='"Liberation Sans", Arial, sans-serif' letter-spacing="-0.5">50</text>
<line x1="288.5" y1="387.2" x2="288.5" y2="388.8" stroke="#111" stroke-width="1"/>
<line x1="285.9" y1="387.2" x2="291.1" y2="387.2" stroke="#111" stroke-width="1.6"/>
<rect x="281.8" y="388.8" width="13.399999999999977" height="1.6999999999999886" fill="#b0b0b0" stroke="#111" stroke-width="1.3" />
<line x1="320.5" y1="304.5" x2="320.5" y2="321.5" stroke="#111" stroke-width="1"/>
<line x1="317.9" y1="304.5" x2="323.1" y2="304.5" stroke="#111" stroke-width="1.6"/>
<rect x="314.5" y="321.5" width="12.0" height="69.0" fill="#b0b0b0" stroke="#111" stroke-width="1.3" />
<line x1="352.5" y1="344.5" x2="352.5" y2="351.5" stroke="#111" stroke-width="1"/>
<line x1="349.9" y1="344.5" x2="355.1" y2="344.5" stroke="#111" stroke-width="1.6"/>
<rect x="346.5" y="351.5" width="13.0" height="39.0" fill="#b0b0b0" stroke="#111" stroke-width="1.3" />
<text x="288.4" y="405.4" font-size="12" font-weight="bold" text-anchor="middle" font-family='"Liberation Sans", Arial, sans-serif' >i</text>
<text x="320" y="405.4" font-size="12" font-weight="bold" text-anchor="middle" font-family='"Liberation Sans", Arial, sans-serif' >ii</text>
<text x="351.9" y="405.4" font-size="12" font-weight="bold" text-anchor="middle" font-family='"Liberation Sans", Arial, sans-serif' >iii</text>
<text x="0" y="0" font-size="9" font-weight="bold" text-anchor="middle" font-family='"Liberation Sans", Arial, sans-serif' transform="translate(256.3,339.5) rotate(-90)">% Positive Cells</text>
<text x="318.5" y="291" font-size="14.5" font-weight="normal" text-anchor="middle" font-family='"Liberation Sans", Arial, sans-serif' >n = 4</text>
<line x1="435.5" y1="281.7" x2="435.5" y2="388.7" stroke="#555" stroke-width="1"/>
<line x1="433" y1="388.7" x2="520" y2="388.7" stroke="#333" stroke-width="1"/>
<line x1="433.5" y1="388.7" x2="435.5" y2="388.7" stroke="#555" stroke-width="1"/>
<text x="430.1" y="391.9" font-size="9" font-weight="bold" text-anchor="end" font-family='"Liberation Sans", Arial, sans-serif' letter-spacing="-0.5">0</text>
<line x1="433.5" y1="367.3" x2="435.5" y2="367.3" stroke="#555" stroke-width="1"/>
<text x="430.1" y="370.5" font-size="9" font-weight="bold" text-anchor="end" font-family='"Liberation Sans", Arial, sans-serif' letter-spacing="-0.5">10</text>
<line x1="433.5" y1="345.9" x2="435.5" y2="345.9" stroke="#555" stroke-width="1"/>
<text x="430.1" y="349.09999999999997" font-size="9" font-weight="bold" text-anchor="end" font-family='"Liberation Sans", Arial, sans-serif' letter-spacing="-0.5">20</text>
<line x1="433.5" y1="324.5" x2="435.5" y2="324.5" stroke="#555" stroke-width="1"/>
<text x="430.1" y="327.7" font-size="9" font-weight="bold" text-anchor="end" font-family='"Liberation Sans", Arial, sans-serif' letter-spacing="-0.5">30</text>
<line x1="433.5" y1="303.09999999999997" x2="435.5" y2="303.09999999999997" stroke="#555" stroke-width="1"/>
<text x="430.1" y="306.29999999999995" font-size="9" font-weight="bold" text-anchor="end" font-family='"Liberation Sans", Arial, sans-serif' letter-spacing="-0.5">40</text>
<line x1="433.5" y1="281.7" x2="435.5" y2="281.7" stroke="#555" stroke-width="1"/>
<text x="430.1" y="284.9" font-size="9" font-weight="bold" text-anchor="end" font-family='"Liberation Sans", Arial, sans-serif' letter-spacing="-0.5">50</text>
<line x1="451.5" y1="362" x2="451.5" y2="363.2" stroke="#111" stroke-width="1"/>
<line x1="449.3" y1="362" x2="453.7" y2="362" stroke="#111" stroke-width="1.5"/>
<rect x="445.5" y="363.2" width="10" height="25.5" fill="#d4d4d4" stroke="#111" stroke-width="1.1" />
<line x1="463.5" y1="304.3" x2="463.5" y2="307.6" stroke="#111" stroke-width="1"/>
<line x1="461.3" y1="304.3" x2="465.7" y2="304.3" stroke="#111" stroke-width="1.5"/>
<rect x="457.5" y="307.6" width="10" height="81.09999999999997" fill="#000" stroke="#111" stroke-width="1.1" />
<line x1="493.5" y1="328.5" x2="493.5" y2="332.5" stroke="#111" stroke-width="1"/>
<line x1="491.3" y1="328.5" x2="495.7" y2="328.5" stroke="#111" stroke-width="1.5"/>
<rect x="488.5" y="332.5" width="9" height="56.19999999999999" fill="#d4d4d4" stroke="#111" stroke-width="1.1" />
<line x1="504.5" y1="302.4" x2="504.5" y2="303.6" stroke="#111" stroke-width="1"/>
<line x1="502.3" y1="302.4" x2="506.7" y2="302.4" stroke="#111" stroke-width="1.5"/>
<rect x="499.5" y="303.6" width="9" height="85.09999999999997" fill="#000" stroke="#111" stroke-width="1.1" />
<text x="451.1" y="405.4" font-size="12" font-weight="bold" text-anchor="middle" font-family='"Liberation Sans", Arial, sans-serif' >i</text>
<text x="462.3" y="405.4" font-size="12" font-weight="bold" text-anchor="middle" font-family='"Liberation Sans", Arial, sans-serif' >ii</text>
<text x="492.7" y="405.4" font-size="12" font-weight="bold" text-anchor="middle" font-family='"Liberation Sans", Arial, sans-serif' >iii</text>
<text x="506" y="405.4" font-size="12" font-weight="bold" text-anchor="middle" font-family='"Liberation Sans", Arial, sans-serif' >iv</text>
<text x="0" y="0" font-size="7.0" font-weight="bold" text-anchor="middle" font-family='"Liberation Sans", Arial, sans-serif' stroke="#000" stroke-width="0.2" transform="translate(416.3,329.2) rotate(-90)">% Positive Cells</text>
<text x="472.8" y="291" font-size="14.5" font-weight="normal" text-anchor="middle" font-family='"Liberation Sans", Arial, sans-serif' >n = 3</text>
</svg>
</body></html>
